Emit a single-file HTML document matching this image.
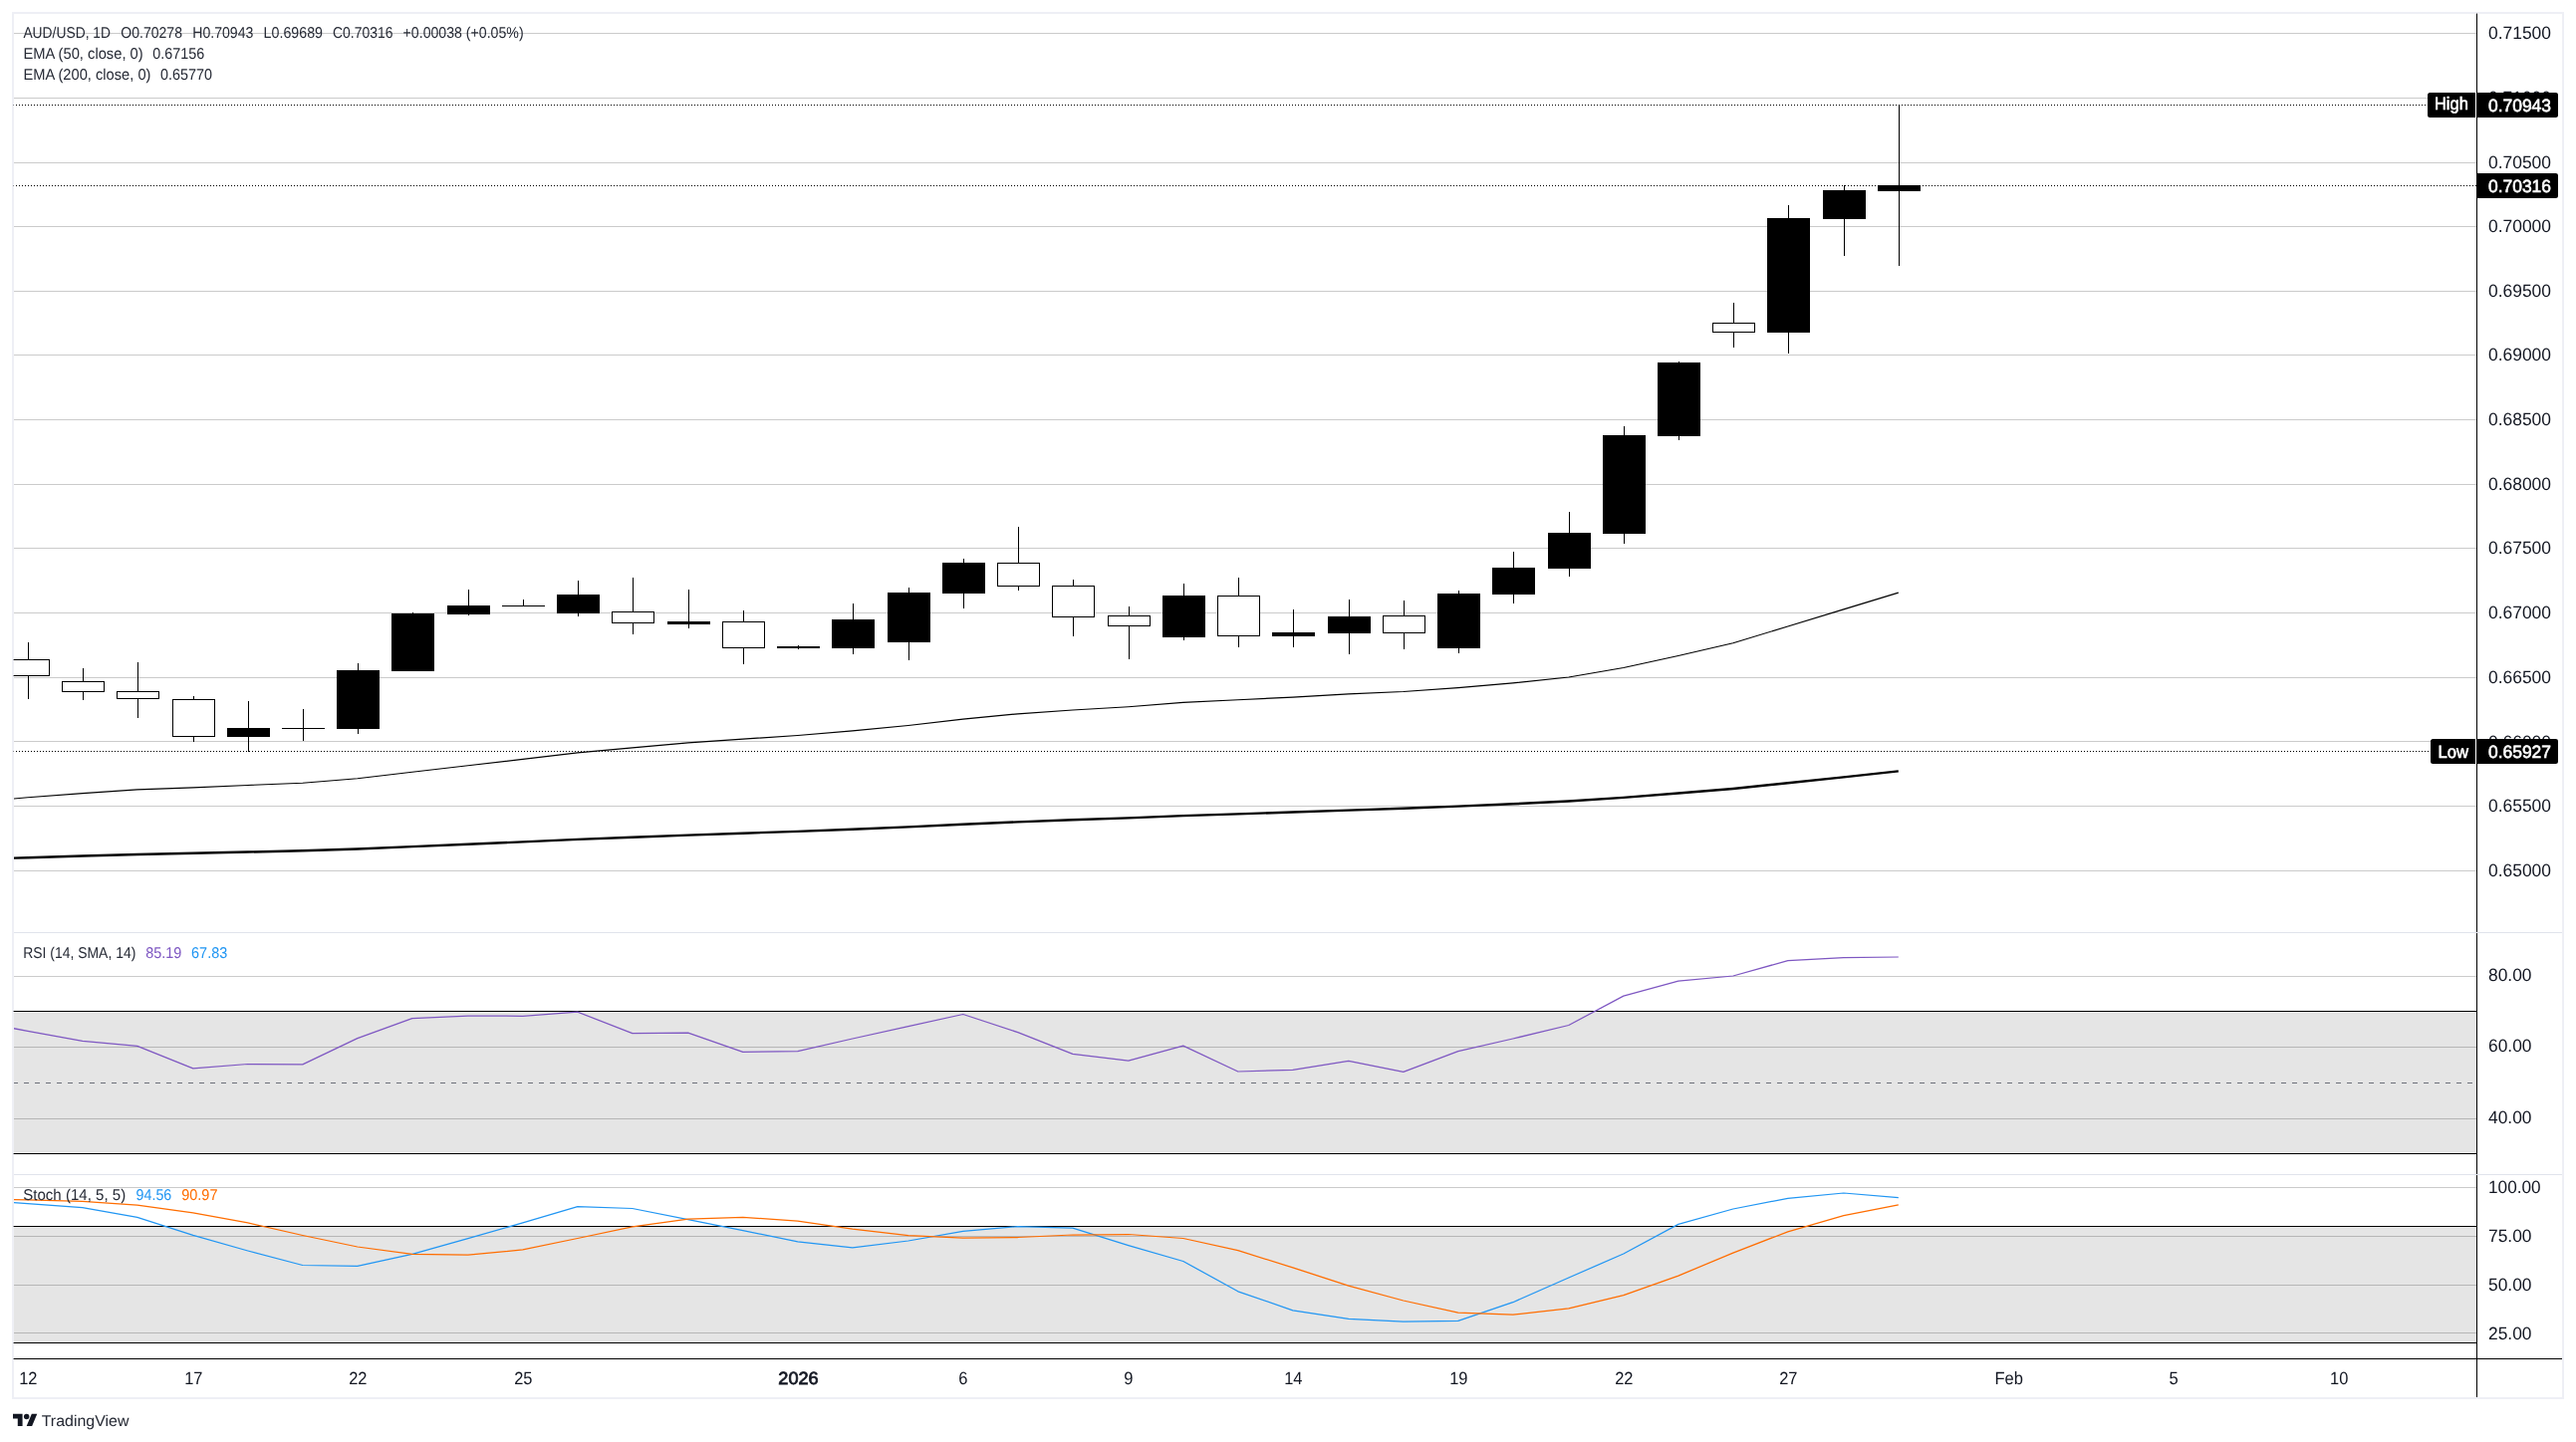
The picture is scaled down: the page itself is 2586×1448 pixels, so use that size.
<!DOCTYPE html>
<html><head><meta charset="utf-8"><title>AUD/USD</title>
<style>html,body{margin:0;padding:0;background:#fff;}body{width:2586px;height:1448px;overflow:hidden;}svg{display:block;will-change:transform;}text{font-family:"Liberation Sans", sans-serif;text-rendering:geometricPrecision;}</style>
</head><body>
<svg width="2586" height="1448" viewBox="0 0 2586 1448">
<defs>
<clipPath id="cpMain"><rect x="14" y="14" width="2472" height="922"/></clipPath>
<clipPath id="cpRsi"><rect x="14" y="937" width="2472" height="242"/></clipPath>
<clipPath id="cpSto"><rect x="14" y="1180" width="2472" height="184"/></clipPath>
</defs>
<rect x="0" y="0" width="2586" height="1448" fill="#ffffff"/>
<g shape-rendering="crispEdges">
<rect x="14" y="33" width="2472" height="1" fill="#cbcbcb"/>
<rect x="14" y="98" width="2472" height="1" fill="#cbcbcb"/>
<rect x="14" y="163" width="2472" height="1" fill="#cbcbcb"/>
<rect x="14" y="227" width="2472" height="1" fill="#cbcbcb"/>
<rect x="14" y="292" width="2472" height="1" fill="#cbcbcb"/>
<rect x="14" y="356" width="2472" height="1" fill="#cbcbcb"/>
<rect x="14" y="421" width="2472" height="1" fill="#cbcbcb"/>
<rect x="14" y="486" width="2472" height="1" fill="#cbcbcb"/>
<rect x="14" y="550" width="2472" height="1" fill="#cbcbcb"/>
<rect x="14" y="615" width="2472" height="1" fill="#cbcbcb"/>
<rect x="14" y="680" width="2472" height="1" fill="#cbcbcb"/>
<rect x="14" y="744" width="2472" height="1" fill="#cbcbcb"/>
<rect x="14" y="809" width="2472" height="1" fill="#cbcbcb"/>
<rect x="14" y="874" width="2472" height="1" fill="#cbcbcb"/>
<rect x="14" y="980" width="2472" height="1" fill="#cbcbcb"/>
<rect x="14" y="1051" width="2472" height="1" fill="#cbcbcb"/>
<rect x="14" y="1123" width="2472" height="1" fill="#cbcbcb"/>
<rect x="14" y="1192" width="2472" height="1" fill="#cbcbcb"/>
<rect x="14" y="1241" width="2472" height="1" fill="#cbcbcb"/>
<rect x="14" y="1290" width="2472" height="1" fill="#cbcbcb"/>
<rect x="14" y="1338" width="2472" height="1" fill="#cbcbcb"/>
<path d="M14 1087h4v1h-4zM24 1087h5v1h-5zM35 1087h5v1h-5zM46 1087h5v1h-5zM57 1087h5v1h-5zM68 1087h5v1h-5zM79 1087h5v1h-5zM90 1087h5v1h-5zM101 1087h5v1h-5zM112 1087h5v1h-5zM123 1087h5v1h-5zM134 1087h5v1h-5zM145 1087h5v1h-5zM156 1087h5v1h-5zM167 1087h5v1h-5zM178 1087h5v1h-5zM189 1087h5v1h-5zM200 1087h5v1h-5zM211 1087h5v1h-5zM222 1087h5v1h-5zM233 1087h5v1h-5zM244 1087h5v1h-5zM255 1087h5v1h-5zM266 1087h5v1h-5zM277 1087h5v1h-5zM288 1087h5v1h-5zM299 1087h5v1h-5zM310 1087h5v1h-5zM321 1087h5v1h-5zM332 1087h5v1h-5zM343 1087h5v1h-5zM354 1087h5v1h-5zM365 1087h5v1h-5zM376 1087h5v1h-5zM387 1087h5v1h-5zM398 1087h5v1h-5zM409 1087h5v1h-5zM420 1087h5v1h-5zM431 1087h5v1h-5zM442 1087h5v1h-5zM453 1087h5v1h-5zM464 1087h5v1h-5zM475 1087h5v1h-5zM486 1087h5v1h-5zM497 1087h5v1h-5zM508 1087h5v1h-5zM519 1087h5v1h-5zM530 1087h5v1h-5zM541 1087h5v1h-5zM552 1087h5v1h-5zM563 1087h5v1h-5zM574 1087h5v1h-5zM585 1087h5v1h-5zM596 1087h5v1h-5zM607 1087h5v1h-5zM618 1087h5v1h-5zM629 1087h5v1h-5zM640 1087h5v1h-5zM651 1087h5v1h-5zM662 1087h5v1h-5zM673 1087h5v1h-5zM684 1087h5v1h-5zM695 1087h5v1h-5zM706 1087h5v1h-5zM717 1087h5v1h-5zM728 1087h5v1h-5zM739 1087h5v1h-5zM750 1087h5v1h-5zM761 1087h5v1h-5zM772 1087h5v1h-5zM783 1087h5v1h-5zM794 1087h5v1h-5zM805 1087h5v1h-5zM816 1087h5v1h-5zM827 1087h5v1h-5zM838 1087h5v1h-5zM849 1087h5v1h-5zM860 1087h5v1h-5zM871 1087h5v1h-5zM882 1087h5v1h-5zM893 1087h5v1h-5zM904 1087h5v1h-5zM915 1087h5v1h-5zM926 1087h5v1h-5zM937 1087h5v1h-5zM948 1087h5v1h-5zM959 1087h5v1h-5zM970 1087h5v1h-5zM981 1087h5v1h-5zM992 1087h5v1h-5zM1003 1087h5v1h-5zM1014 1087h5v1h-5zM1025 1087h5v1h-5zM1036 1087h5v1h-5zM1047 1087h5v1h-5zM1058 1087h5v1h-5zM1069 1087h5v1h-5zM1080 1087h5v1h-5zM1091 1087h5v1h-5zM1102 1087h5v1h-5zM1113 1087h5v1h-5zM1124 1087h5v1h-5zM1135 1087h5v1h-5zM1146 1087h5v1h-5zM1157 1087h5v1h-5zM1168 1087h5v1h-5zM1179 1087h5v1h-5zM1190 1087h5v1h-5zM1201 1087h5v1h-5zM1212 1087h5v1h-5zM1223 1087h5v1h-5zM1234 1087h5v1h-5zM1245 1087h5v1h-5zM1256 1087h5v1h-5zM1267 1087h5v1h-5zM1278 1087h5v1h-5zM1289 1087h5v1h-5zM1300 1087h5v1h-5zM1311 1087h5v1h-5zM1322 1087h5v1h-5zM1333 1087h5v1h-5zM1344 1087h5v1h-5zM1355 1087h5v1h-5zM1366 1087h5v1h-5zM1377 1087h5v1h-5zM1388 1087h5v1h-5zM1399 1087h5v1h-5zM1410 1087h5v1h-5zM1421 1087h5v1h-5zM1432 1087h5v1h-5zM1443 1087h5v1h-5zM1454 1087h5v1h-5zM1465 1087h5v1h-5zM1476 1087h5v1h-5zM1487 1087h5v1h-5zM1498 1087h5v1h-5zM1509 1087h5v1h-5zM1520 1087h5v1h-5zM1531 1087h5v1h-5zM1542 1087h5v1h-5zM1553 1087h5v1h-5zM1564 1087h5v1h-5zM1575 1087h5v1h-5zM1586 1087h5v1h-5zM1597 1087h5v1h-5zM1608 1087h5v1h-5zM1619 1087h5v1h-5zM1630 1087h5v1h-5zM1641 1087h5v1h-5zM1652 1087h5v1h-5zM1663 1087h5v1h-5zM1674 1087h5v1h-5zM1685 1087h5v1h-5zM1696 1087h5v1h-5zM1707 1087h5v1h-5zM1718 1087h5v1h-5zM1729 1087h5v1h-5zM1740 1087h5v1h-5zM1751 1087h5v1h-5zM1762 1087h5v1h-5zM1773 1087h5v1h-5zM1784 1087h5v1h-5zM1795 1087h5v1h-5zM1806 1087h5v1h-5zM1817 1087h5v1h-5zM1828 1087h5v1h-5zM1839 1087h5v1h-5zM1850 1087h5v1h-5zM1861 1087h5v1h-5zM1872 1087h5v1h-5zM1883 1087h5v1h-5zM1894 1087h5v1h-5zM1905 1087h5v1h-5zM1916 1087h5v1h-5zM1927 1087h5v1h-5zM1938 1087h5v1h-5zM1949 1087h5v1h-5zM1960 1087h5v1h-5zM1971 1087h5v1h-5zM1982 1087h5v1h-5zM1993 1087h5v1h-5zM2004 1087h5v1h-5zM2015 1087h5v1h-5zM2026 1087h5v1h-5zM2037 1087h5v1h-5zM2048 1087h5v1h-5zM2059 1087h5v1h-5zM2070 1087h5v1h-5zM2081 1087h5v1h-5zM2092 1087h5v1h-5zM2103 1087h5v1h-5zM2114 1087h5v1h-5zM2125 1087h5v1h-5zM2136 1087h5v1h-5zM2147 1087h5v1h-5zM2158 1087h5v1h-5zM2169 1087h5v1h-5zM2180 1087h5v1h-5zM2191 1087h5v1h-5zM2202 1087h5v1h-5zM2213 1087h5v1h-5zM2224 1087h5v1h-5zM2235 1087h5v1h-5zM2246 1087h5v1h-5zM2257 1087h5v1h-5zM2268 1087h5v1h-5zM2279 1087h5v1h-5zM2290 1087h5v1h-5zM2301 1087h5v1h-5zM2312 1087h5v1h-5zM2323 1087h5v1h-5zM2334 1087h5v1h-5zM2345 1087h5v1h-5zM2356 1087h5v1h-5zM2367 1087h5v1h-5zM2378 1087h5v1h-5zM2389 1087h5v1h-5zM2400 1087h5v1h-5zM2411 1087h5v1h-5zM2422 1087h5v1h-5zM2433 1087h5v1h-5zM2444 1087h5v1h-5zM2455 1087h5v1h-5zM2466 1087h5v1h-5zM2477 1087h5v1h-5z" fill="#787b86"/>
<rect x="14" y="1016" width="2472" height="142" fill="#000000" fill-opacity="0.10"/>
<rect x="14" y="1232" width="2472" height="116" fill="#000000" fill-opacity="0.10"/>
<rect x="14" y="1015" width="2472" height="1" fill="#000000"/>
<rect x="14" y="1158" width="2472" height="1" fill="#000000"/>
<rect x="14" y="1231" width="2472" height="1" fill="#000000"/>
<rect x="14" y="1348" width="2472" height="1" fill="#000000"/>
<path d="M16 105h1v1h-1zM19 105h1v1h-1zM22 105h1v1h-1zM25 105h1v1h-1zM28 105h1v1h-1zM31 105h1v1h-1zM34 105h1v1h-1zM37 105h1v1h-1zM40 105h1v1h-1zM43 105h1v1h-1zM46 105h1v1h-1zM49 105h1v1h-1zM52 105h1v1h-1zM55 105h1v1h-1zM58 105h1v1h-1zM61 105h1v1h-1zM64 105h1v1h-1zM67 105h1v1h-1zM70 105h1v1h-1zM73 105h1v1h-1zM76 105h1v1h-1zM79 105h1v1h-1zM82 105h1v1h-1zM85 105h1v1h-1zM88 105h1v1h-1zM91 105h1v1h-1zM94 105h1v1h-1zM97 105h1v1h-1zM100 105h1v1h-1zM103 105h1v1h-1zM106 105h1v1h-1zM109 105h1v1h-1zM112 105h1v1h-1zM115 105h1v1h-1zM118 105h1v1h-1zM121 105h1v1h-1zM124 105h1v1h-1zM127 105h1v1h-1zM130 105h1v1h-1zM133 105h1v1h-1zM136 105h1v1h-1zM139 105h1v1h-1zM142 105h1v1h-1zM145 105h1v1h-1zM148 105h1v1h-1zM151 105h1v1h-1zM154 105h1v1h-1zM157 105h1v1h-1zM160 105h1v1h-1zM163 105h1v1h-1zM166 105h1v1h-1zM169 105h1v1h-1zM172 105h1v1h-1zM175 105h1v1h-1zM178 105h1v1h-1zM181 105h1v1h-1zM184 105h1v1h-1zM187 105h1v1h-1zM190 105h1v1h-1zM193 105h1v1h-1zM196 105h1v1h-1zM199 105h1v1h-1zM202 105h1v1h-1zM205 105h1v1h-1zM208 105h1v1h-1zM211 105h1v1h-1zM214 105h1v1h-1zM217 105h1v1h-1zM220 105h1v1h-1zM223 105h1v1h-1zM226 105h1v1h-1zM229 105h1v1h-1zM232 105h1v1h-1zM235 105h1v1h-1zM238 105h1v1h-1zM241 105h1v1h-1zM244 105h1v1h-1zM247 105h1v1h-1zM250 105h1v1h-1zM253 105h1v1h-1zM256 105h1v1h-1zM259 105h1v1h-1zM262 105h1v1h-1zM265 105h1v1h-1zM268 105h1v1h-1zM271 105h1v1h-1zM274 105h1v1h-1zM277 105h1v1h-1zM280 105h1v1h-1zM283 105h1v1h-1zM286 105h1v1h-1zM289 105h1v1h-1zM292 105h1v1h-1zM295 105h1v1h-1zM298 105h1v1h-1zM301 105h1v1h-1zM304 105h1v1h-1zM307 105h1v1h-1zM310 105h1v1h-1zM313 105h1v1h-1zM316 105h1v1h-1zM319 105h1v1h-1zM322 105h1v1h-1zM325 105h1v1h-1zM328 105h1v1h-1zM331 105h1v1h-1zM334 105h1v1h-1zM337 105h1v1h-1zM340 105h1v1h-1zM343 105h1v1h-1zM346 105h1v1h-1zM349 105h1v1h-1zM352 105h1v1h-1zM355 105h1v1h-1zM358 105h1v1h-1zM361 105h1v1h-1zM364 105h1v1h-1zM367 105h1v1h-1zM370 105h1v1h-1zM373 105h1v1h-1zM376 105h1v1h-1zM379 105h1v1h-1zM382 105h1v1h-1zM385 105h1v1h-1zM388 105h1v1h-1zM391 105h1v1h-1zM394 105h1v1h-1zM397 105h1v1h-1zM400 105h1v1h-1zM403 105h1v1h-1zM406 105h1v1h-1zM409 105h1v1h-1zM412 105h1v1h-1zM415 105h1v1h-1zM418 105h1v1h-1zM421 105h1v1h-1zM424 105h1v1h-1zM427 105h1v1h-1zM430 105h1v1h-1zM433 105h1v1h-1zM436 105h1v1h-1zM439 105h1v1h-1zM442 105h1v1h-1zM445 105h1v1h-1zM448 105h1v1h-1zM451 105h1v1h-1zM454 105h1v1h-1zM457 105h1v1h-1zM460 105h1v1h-1zM463 105h1v1h-1zM466 105h1v1h-1zM469 105h1v1h-1zM472 105h1v1h-1zM475 105h1v1h-1zM478 105h1v1h-1zM481 105h1v1h-1zM484 105h1v1h-1zM487 105h1v1h-1zM490 105h1v1h-1zM493 105h1v1h-1zM496 105h1v1h-1zM499 105h1v1h-1zM502 105h1v1h-1zM505 105h1v1h-1zM508 105h1v1h-1zM511 105h1v1h-1zM514 105h1v1h-1zM517 105h1v1h-1zM520 105h1v1h-1zM523 105h1v1h-1zM526 105h1v1h-1zM529 105h1v1h-1zM532 105h1v1h-1zM535 105h1v1h-1zM538 105h1v1h-1zM541 105h1v1h-1zM544 105h1v1h-1zM547 105h1v1h-1zM550 105h1v1h-1zM553 105h1v1h-1zM556 105h1v1h-1zM559 105h1v1h-1zM562 105h1v1h-1zM565 105h1v1h-1zM568 105h1v1h-1zM571 105h1v1h-1zM574 105h1v1h-1zM577 105h1v1h-1zM580 105h1v1h-1zM583 105h1v1h-1zM586 105h1v1h-1zM589 105h1v1h-1zM592 105h1v1h-1zM595 105h1v1h-1zM598 105h1v1h-1zM601 105h1v1h-1zM604 105h1v1h-1zM607 105h1v1h-1zM610 105h1v1h-1zM613 105h1v1h-1zM616 105h1v1h-1zM619 105h1v1h-1zM622 105h1v1h-1zM625 105h1v1h-1zM628 105h1v1h-1zM631 105h1v1h-1zM634 105h1v1h-1zM637 105h1v1h-1zM640 105h1v1h-1zM643 105h1v1h-1zM646 105h1v1h-1zM649 105h1v1h-1zM652 105h1v1h-1zM655 105h1v1h-1zM658 105h1v1h-1zM661 105h1v1h-1zM664 105h1v1h-1zM667 105h1v1h-1zM670 105h1v1h-1zM673 105h1v1h-1zM676 105h1v1h-1zM679 105h1v1h-1zM682 105h1v1h-1zM685 105h1v1h-1zM688 105h1v1h-1zM691 105h1v1h-1zM694 105h1v1h-1zM697 105h1v1h-1zM700 105h1v1h-1zM703 105h1v1h-1zM706 105h1v1h-1zM709 105h1v1h-1zM712 105h1v1h-1zM715 105h1v1h-1zM718 105h1v1h-1zM721 105h1v1h-1zM724 105h1v1h-1zM727 105h1v1h-1zM730 105h1v1h-1zM733 105h1v1h-1zM736 105h1v1h-1zM739 105h1v1h-1zM742 105h1v1h-1zM745 105h1v1h-1zM748 105h1v1h-1zM751 105h1v1h-1zM754 105h1v1h-1zM757 105h1v1h-1zM760 105h1v1h-1zM763 105h1v1h-1zM766 105h1v1h-1zM769 105h1v1h-1zM772 105h1v1h-1zM775 105h1v1h-1zM778 105h1v1h-1zM781 105h1v1h-1zM784 105h1v1h-1zM787 105h1v1h-1zM790 105h1v1h-1zM793 105h1v1h-1zM796 105h1v1h-1zM799 105h1v1h-1zM802 105h1v1h-1zM805 105h1v1h-1zM808 105h1v1h-1zM811 105h1v1h-1zM814 105h1v1h-1zM817 105h1v1h-1zM820 105h1v1h-1zM823 105h1v1h-1zM826 105h1v1h-1zM829 105h1v1h-1zM832 105h1v1h-1zM835 105h1v1h-1zM838 105h1v1h-1zM841 105h1v1h-1zM844 105h1v1h-1zM847 105h1v1h-1zM850 105h1v1h-1zM853 105h1v1h-1zM856 105h1v1h-1zM859 105h1v1h-1zM862 105h1v1h-1zM865 105h1v1h-1zM868 105h1v1h-1zM871 105h1v1h-1zM874 105h1v1h-1zM877 105h1v1h-1zM880 105h1v1h-1zM883 105h1v1h-1zM886 105h1v1h-1zM889 105h1v1h-1zM892 105h1v1h-1zM895 105h1v1h-1zM898 105h1v1h-1zM901 105h1v1h-1zM904 105h1v1h-1zM907 105h1v1h-1zM910 105h1v1h-1zM913 105h1v1h-1zM916 105h1v1h-1zM919 105h1v1h-1zM922 105h1v1h-1zM925 105h1v1h-1zM928 105h1v1h-1zM931 105h1v1h-1zM934 105h1v1h-1zM937 105h1v1h-1zM940 105h1v1h-1zM943 105h1v1h-1zM946 105h1v1h-1zM949 105h1v1h-1zM952 105h1v1h-1zM955 105h1v1h-1zM958 105h1v1h-1zM961 105h1v1h-1zM964 105h1v1h-1zM967 105h1v1h-1zM970 105h1v1h-1zM973 105h1v1h-1zM976 105h1v1h-1zM979 105h1v1h-1zM982 105h1v1h-1zM985 105h1v1h-1zM988 105h1v1h-1zM991 105h1v1h-1zM994 105h1v1h-1zM997 105h1v1h-1zM1000 105h1v1h-1zM1003 105h1v1h-1zM1006 105h1v1h-1zM1009 105h1v1h-1zM1012 105h1v1h-1zM1015 105h1v1h-1zM1018 105h1v1h-1zM1021 105h1v1h-1zM1024 105h1v1h-1zM1027 105h1v1h-1zM1030 105h1v1h-1zM1033 105h1v1h-1zM1036 105h1v1h-1zM1039 105h1v1h-1zM1042 105h1v1h-1zM1045 105h1v1h-1zM1048 105h1v1h-1zM1051 105h1v1h-1zM1054 105h1v1h-1zM1057 105h1v1h-1zM1060 105h1v1h-1zM1063 105h1v1h-1zM1066 105h1v1h-1zM1069 105h1v1h-1zM1072 105h1v1h-1zM1075 105h1v1h-1zM1078 105h1v1h-1zM1081 105h1v1h-1zM1084 105h1v1h-1zM1087 105h1v1h-1zM1090 105h1v1h-1zM1093 105h1v1h-1zM1096 105h1v1h-1zM1099 105h1v1h-1zM1102 105h1v1h-1zM1105 105h1v1h-1zM1108 105h1v1h-1zM1111 105h1v1h-1zM1114 105h1v1h-1zM1117 105h1v1h-1zM1120 105h1v1h-1zM1123 105h1v1h-1zM1126 105h1v1h-1zM1129 105h1v1h-1zM1132 105h1v1h-1zM1135 105h1v1h-1zM1138 105h1v1h-1zM1141 105h1v1h-1zM1144 105h1v1h-1zM1147 105h1v1h-1zM1150 105h1v1h-1zM1153 105h1v1h-1zM1156 105h1v1h-1zM1159 105h1v1h-1zM1162 105h1v1h-1zM1165 105h1v1h-1zM1168 105h1v1h-1zM1171 105h1v1h-1zM1174 105h1v1h-1zM1177 105h1v1h-1zM1180 105h1v1h-1zM1183 105h1v1h-1zM1186 105h1v1h-1zM1189 105h1v1h-1zM1192 105h1v1h-1zM1195 105h1v1h-1zM1198 105h1v1h-1zM1201 105h1v1h-1zM1204 105h1v1h-1zM1207 105h1v1h-1zM1210 105h1v1h-1zM1213 105h1v1h-1zM1216 105h1v1h-1zM1219 105h1v1h-1zM1222 105h1v1h-1zM1225 105h1v1h-1zM1228 105h1v1h-1zM1231 105h1v1h-1zM1234 105h1v1h-1zM1237 105h1v1h-1zM1240 105h1v1h-1zM1243 105h1v1h-1zM1246 105h1v1h-1zM1249 105h1v1h-1zM1252 105h1v1h-1zM1255 105h1v1h-1zM1258 105h1v1h-1zM1261 105h1v1h-1zM1264 105h1v1h-1zM1267 105h1v1h-1zM1270 105h1v1h-1zM1273 105h1v1h-1zM1276 105h1v1h-1zM1279 105h1v1h-1zM1282 105h1v1h-1zM1285 105h1v1h-1zM1288 105h1v1h-1zM1291 105h1v1h-1zM1294 105h1v1h-1zM1297 105h1v1h-1zM1300 105h1v1h-1zM1303 105h1v1h-1zM1306 105h1v1h-1zM1309 105h1v1h-1zM1312 105h1v1h-1zM1315 105h1v1h-1zM1318 105h1v1h-1zM1321 105h1v1h-1zM1324 105h1v1h-1zM1327 105h1v1h-1zM1330 105h1v1h-1zM1333 105h1v1h-1zM1336 105h1v1h-1zM1339 105h1v1h-1zM1342 105h1v1h-1zM1345 105h1v1h-1zM1348 105h1v1h-1zM1351 105h1v1h-1zM1354 105h1v1h-1zM1357 105h1v1h-1zM1360 105h1v1h-1zM1363 105h1v1h-1zM1366 105h1v1h-1zM1369 105h1v1h-1zM1372 105h1v1h-1zM1375 105h1v1h-1zM1378 105h1v1h-1zM1381 105h1v1h-1zM1384 105h1v1h-1zM1387 105h1v1h-1zM1390 105h1v1h-1zM1393 105h1v1h-1zM1396 105h1v1h-1zM1399 105h1v1h-1zM1402 105h1v1h-1zM1405 105h1v1h-1zM1408 105h1v1h-1zM1411 105h1v1h-1zM1414 105h1v1h-1zM1417 105h1v1h-1zM1420 105h1v1h-1zM1423 105h1v1h-1zM1426 105h1v1h-1zM1429 105h1v1h-1zM1432 105h1v1h-1zM1435 105h1v1h-1zM1438 105h1v1h-1zM1441 105h1v1h-1zM1444 105h1v1h-1zM1447 105h1v1h-1zM1450 105h1v1h-1zM1453 105h1v1h-1zM1456 105h1v1h-1zM1459 105h1v1h-1zM1462 105h1v1h-1zM1465 105h1v1h-1zM1468 105h1v1h-1zM1471 105h1v1h-1zM1474 105h1v1h-1zM1477 105h1v1h-1zM1480 105h1v1h-1zM1483 105h1v1h-1zM1486 105h1v1h-1zM1489 105h1v1h-1zM1492 105h1v1h-1zM1495 105h1v1h-1zM1498 105h1v1h-1zM1501 105h1v1h-1zM1504 105h1v1h-1zM1507 105h1v1h-1zM1510 105h1v1h-1zM1513 105h1v1h-1zM1516 105h1v1h-1zM1519 105h1v1h-1zM1522 105h1v1h-1zM1525 105h1v1h-1zM1528 105h1v1h-1zM1531 105h1v1h-1zM1534 105h1v1h-1zM1537 105h1v1h-1zM1540 105h1v1h-1zM1543 105h1v1h-1zM1546 105h1v1h-1zM1549 105h1v1h-1zM1552 105h1v1h-1zM1555 105h1v1h-1zM1558 105h1v1h-1zM1561 105h1v1h-1zM1564 105h1v1h-1zM1567 105h1v1h-1zM1570 105h1v1h-1zM1573 105h1v1h-1zM1576 105h1v1h-1zM1579 105h1v1h-1zM1582 105h1v1h-1zM1585 105h1v1h-1zM1588 105h1v1h-1zM1591 105h1v1h-1zM1594 105h1v1h-1zM1597 105h1v1h-1zM1600 105h1v1h-1zM1603 105h1v1h-1zM1606 105h1v1h-1zM1609 105h1v1h-1zM1612 105h1v1h-1zM1615 105h1v1h-1zM1618 105h1v1h-1zM1621 105h1v1h-1zM1624 105h1v1h-1zM1627 105h1v1h-1zM1630 105h1v1h-1zM1633 105h1v1h-1zM1636 105h1v1h-1zM1639 105h1v1h-1zM1642 105h1v1h-1zM1645 105h1v1h-1zM1648 105h1v1h-1zM1651 105h1v1h-1zM1654 105h1v1h-1zM1657 105h1v1h-1zM1660 105h1v1h-1zM1663 105h1v1h-1zM1666 105h1v1h-1zM1669 105h1v1h-1zM1672 105h1v1h-1zM1675 105h1v1h-1zM1678 105h1v1h-1zM1681 105h1v1h-1zM1684 105h1v1h-1zM1687 105h1v1h-1zM1690 105h1v1h-1zM1693 105h1v1h-1zM1696 105h1v1h-1zM1699 105h1v1h-1zM1702 105h1v1h-1zM1705 105h1v1h-1zM1708 105h1v1h-1zM1711 105h1v1h-1zM1714 105h1v1h-1zM1717 105h1v1h-1zM1720 105h1v1h-1zM1723 105h1v1h-1zM1726 105h1v1h-1zM1729 105h1v1h-1zM1732 105h1v1h-1zM1735 105h1v1h-1zM1738 105h1v1h-1zM1741 105h1v1h-1zM1744 105h1v1h-1zM1747 105h1v1h-1zM1750 105h1v1h-1zM1753 105h1v1h-1zM1756 105h1v1h-1zM1759 105h1v1h-1zM1762 105h1v1h-1zM1765 105h1v1h-1zM1768 105h1v1h-1zM1771 105h1v1h-1zM1774 105h1v1h-1zM1777 105h1v1h-1zM1780 105h1v1h-1zM1783 105h1v1h-1zM1786 105h1v1h-1zM1789 105h1v1h-1zM1792 105h1v1h-1zM1795 105h1v1h-1zM1798 105h1v1h-1zM1801 105h1v1h-1zM1804 105h1v1h-1zM1807 105h1v1h-1zM1810 105h1v1h-1zM1813 105h1v1h-1zM1816 105h1v1h-1zM1819 105h1v1h-1zM1822 105h1v1h-1zM1825 105h1v1h-1zM1828 105h1v1h-1zM1831 105h1v1h-1zM1834 105h1v1h-1zM1837 105h1v1h-1zM1840 105h1v1h-1zM1843 105h1v1h-1zM1846 105h1v1h-1zM1849 105h1v1h-1zM1852 105h1v1h-1zM1855 105h1v1h-1zM1858 105h1v1h-1zM1861 105h1v1h-1zM1864 105h1v1h-1zM1867 105h1v1h-1zM1870 105h1v1h-1zM1873 105h1v1h-1zM1876 105h1v1h-1zM1879 105h1v1h-1zM1882 105h1v1h-1zM1885 105h1v1h-1zM1888 105h1v1h-1zM1891 105h1v1h-1zM1894 105h1v1h-1zM1897 105h1v1h-1zM1900 105h1v1h-1zM1903 105h1v1h-1zM1906 105h1v1h-1zM1909 105h1v1h-1zM1912 105h1v1h-1zM1915 105h1v1h-1zM1918 105h1v1h-1zM1921 105h1v1h-1zM1924 105h1v1h-1zM1927 105h1v1h-1zM1930 105h1v1h-1zM1933 105h1v1h-1zM1936 105h1v1h-1zM1939 105h1v1h-1zM1942 105h1v1h-1zM1945 105h1v1h-1zM1948 105h1v1h-1zM1951 105h1v1h-1zM1954 105h1v1h-1zM1957 105h1v1h-1zM1960 105h1v1h-1zM1963 105h1v1h-1zM1966 105h1v1h-1zM1969 105h1v1h-1zM1972 105h1v1h-1zM1975 105h1v1h-1zM1978 105h1v1h-1zM1981 105h1v1h-1zM1984 105h1v1h-1zM1987 105h1v1h-1zM1990 105h1v1h-1zM1993 105h1v1h-1zM1996 105h1v1h-1zM1999 105h1v1h-1zM2002 105h1v1h-1zM2005 105h1v1h-1zM2008 105h1v1h-1zM2011 105h1v1h-1zM2014 105h1v1h-1zM2017 105h1v1h-1zM2020 105h1v1h-1zM2023 105h1v1h-1zM2026 105h1v1h-1zM2029 105h1v1h-1zM2032 105h1v1h-1zM2035 105h1v1h-1zM2038 105h1v1h-1zM2041 105h1v1h-1zM2044 105h1v1h-1zM2047 105h1v1h-1zM2050 105h1v1h-1zM2053 105h1v1h-1zM2056 105h1v1h-1zM2059 105h1v1h-1zM2062 105h1v1h-1zM2065 105h1v1h-1zM2068 105h1v1h-1zM2071 105h1v1h-1zM2074 105h1v1h-1zM2077 105h1v1h-1zM2080 105h1v1h-1zM2083 105h1v1h-1zM2086 105h1v1h-1zM2089 105h1v1h-1zM2092 105h1v1h-1zM2095 105h1v1h-1zM2098 105h1v1h-1zM2101 105h1v1h-1zM2104 105h1v1h-1zM2107 105h1v1h-1zM2110 105h1v1h-1zM2113 105h1v1h-1zM2116 105h1v1h-1zM2119 105h1v1h-1zM2122 105h1v1h-1zM2125 105h1v1h-1zM2128 105h1v1h-1zM2131 105h1v1h-1zM2134 105h1v1h-1zM2137 105h1v1h-1zM2140 105h1v1h-1zM2143 105h1v1h-1zM2146 105h1v1h-1zM2149 105h1v1h-1zM2152 105h1v1h-1zM2155 105h1v1h-1zM2158 105h1v1h-1zM2161 105h1v1h-1zM2164 105h1v1h-1zM2167 105h1v1h-1zM2170 105h1v1h-1zM2173 105h1v1h-1zM2176 105h1v1h-1zM2179 105h1v1h-1zM2182 105h1v1h-1zM2185 105h1v1h-1zM2188 105h1v1h-1zM2191 105h1v1h-1zM2194 105h1v1h-1zM2197 105h1v1h-1zM2200 105h1v1h-1zM2203 105h1v1h-1zM2206 105h1v1h-1zM2209 105h1v1h-1zM2212 105h1v1h-1zM2215 105h1v1h-1zM2218 105h1v1h-1zM2221 105h1v1h-1zM2224 105h1v1h-1zM2227 105h1v1h-1zM2230 105h1v1h-1zM2233 105h1v1h-1zM2236 105h1v1h-1zM2239 105h1v1h-1zM2242 105h1v1h-1zM2245 105h1v1h-1zM2248 105h1v1h-1zM2251 105h1v1h-1zM2254 105h1v1h-1zM2257 105h1v1h-1zM2260 105h1v1h-1zM2263 105h1v1h-1zM2266 105h1v1h-1zM2269 105h1v1h-1zM2272 105h1v1h-1zM2275 105h1v1h-1zM2278 105h1v1h-1zM2281 105h1v1h-1zM2284 105h1v1h-1zM2287 105h1v1h-1zM2290 105h1v1h-1zM2293 105h1v1h-1zM2296 105h1v1h-1zM2299 105h1v1h-1zM2302 105h1v1h-1zM2305 105h1v1h-1zM2308 105h1v1h-1zM2311 105h1v1h-1zM2314 105h1v1h-1zM2317 105h1v1h-1zM2320 105h1v1h-1zM2323 105h1v1h-1zM2326 105h1v1h-1zM2329 105h1v1h-1zM2332 105h1v1h-1zM2335 105h1v1h-1zM2338 105h1v1h-1zM2341 105h1v1h-1zM2344 105h1v1h-1zM2347 105h1v1h-1zM2350 105h1v1h-1zM2353 105h1v1h-1zM2356 105h1v1h-1zM2359 105h1v1h-1zM2362 105h1v1h-1zM2365 105h1v1h-1zM2368 105h1v1h-1zM2371 105h1v1h-1zM2374 105h1v1h-1zM2377 105h1v1h-1zM2380 105h1v1h-1zM2383 105h1v1h-1zM2386 105h1v1h-1zM2389 105h1v1h-1zM2392 105h1v1h-1zM2395 105h1v1h-1zM2398 105h1v1h-1zM2401 105h1v1h-1zM2404 105h1v1h-1zM2407 105h1v1h-1zM2410 105h1v1h-1zM2413 105h1v1h-1zM2416 105h1v1h-1zM2419 105h1v1h-1zM2422 105h1v1h-1zM2425 105h1v1h-1zM2428 105h1v1h-1zM2431 105h1v1h-1zM2434 105h1v1h-1z" fill="#000"/>
<path d="M16 186h1v1h-1zM19 186h1v1h-1zM22 186h1v1h-1zM25 186h1v1h-1zM28 186h1v1h-1zM31 186h1v1h-1zM34 186h1v1h-1zM37 186h1v1h-1zM40 186h1v1h-1zM43 186h1v1h-1zM46 186h1v1h-1zM49 186h1v1h-1zM52 186h1v1h-1zM55 186h1v1h-1zM58 186h1v1h-1zM61 186h1v1h-1zM64 186h1v1h-1zM67 186h1v1h-1zM70 186h1v1h-1zM73 186h1v1h-1zM76 186h1v1h-1zM79 186h1v1h-1zM82 186h1v1h-1zM85 186h1v1h-1zM88 186h1v1h-1zM91 186h1v1h-1zM94 186h1v1h-1zM97 186h1v1h-1zM100 186h1v1h-1zM103 186h1v1h-1zM106 186h1v1h-1zM109 186h1v1h-1zM112 186h1v1h-1zM115 186h1v1h-1zM118 186h1v1h-1zM121 186h1v1h-1zM124 186h1v1h-1zM127 186h1v1h-1zM130 186h1v1h-1zM133 186h1v1h-1zM136 186h1v1h-1zM139 186h1v1h-1zM142 186h1v1h-1zM145 186h1v1h-1zM148 186h1v1h-1zM151 186h1v1h-1zM154 186h1v1h-1zM157 186h1v1h-1zM160 186h1v1h-1zM163 186h1v1h-1zM166 186h1v1h-1zM169 186h1v1h-1zM172 186h1v1h-1zM175 186h1v1h-1zM178 186h1v1h-1zM181 186h1v1h-1zM184 186h1v1h-1zM187 186h1v1h-1zM190 186h1v1h-1zM193 186h1v1h-1zM196 186h1v1h-1zM199 186h1v1h-1zM202 186h1v1h-1zM205 186h1v1h-1zM208 186h1v1h-1zM211 186h1v1h-1zM214 186h1v1h-1zM217 186h1v1h-1zM220 186h1v1h-1zM223 186h1v1h-1zM226 186h1v1h-1zM229 186h1v1h-1zM232 186h1v1h-1zM235 186h1v1h-1zM238 186h1v1h-1zM241 186h1v1h-1zM244 186h1v1h-1zM247 186h1v1h-1zM250 186h1v1h-1zM253 186h1v1h-1zM256 186h1v1h-1zM259 186h1v1h-1zM262 186h1v1h-1zM265 186h1v1h-1zM268 186h1v1h-1zM271 186h1v1h-1zM274 186h1v1h-1zM277 186h1v1h-1zM280 186h1v1h-1zM283 186h1v1h-1zM286 186h1v1h-1zM289 186h1v1h-1zM292 186h1v1h-1zM295 186h1v1h-1zM298 186h1v1h-1zM301 186h1v1h-1zM304 186h1v1h-1zM307 186h1v1h-1zM310 186h1v1h-1zM313 186h1v1h-1zM316 186h1v1h-1zM319 186h1v1h-1zM322 186h1v1h-1zM325 186h1v1h-1zM328 186h1v1h-1zM331 186h1v1h-1zM334 186h1v1h-1zM337 186h1v1h-1zM340 186h1v1h-1zM343 186h1v1h-1zM346 186h1v1h-1zM349 186h1v1h-1zM352 186h1v1h-1zM355 186h1v1h-1zM358 186h1v1h-1zM361 186h1v1h-1zM364 186h1v1h-1zM367 186h1v1h-1zM370 186h1v1h-1zM373 186h1v1h-1zM376 186h1v1h-1zM379 186h1v1h-1zM382 186h1v1h-1zM385 186h1v1h-1zM388 186h1v1h-1zM391 186h1v1h-1zM394 186h1v1h-1zM397 186h1v1h-1zM400 186h1v1h-1zM403 186h1v1h-1zM406 186h1v1h-1zM409 186h1v1h-1zM412 186h1v1h-1zM415 186h1v1h-1zM418 186h1v1h-1zM421 186h1v1h-1zM424 186h1v1h-1zM427 186h1v1h-1zM430 186h1v1h-1zM433 186h1v1h-1zM436 186h1v1h-1zM439 186h1v1h-1zM442 186h1v1h-1zM445 186h1v1h-1zM448 186h1v1h-1zM451 186h1v1h-1zM454 186h1v1h-1zM457 186h1v1h-1zM460 186h1v1h-1zM463 186h1v1h-1zM466 186h1v1h-1zM469 186h1v1h-1zM472 186h1v1h-1zM475 186h1v1h-1zM478 186h1v1h-1zM481 186h1v1h-1zM484 186h1v1h-1zM487 186h1v1h-1zM490 186h1v1h-1zM493 186h1v1h-1zM496 186h1v1h-1zM499 186h1v1h-1zM502 186h1v1h-1zM505 186h1v1h-1zM508 186h1v1h-1zM511 186h1v1h-1zM514 186h1v1h-1zM517 186h1v1h-1zM520 186h1v1h-1zM523 186h1v1h-1zM526 186h1v1h-1zM529 186h1v1h-1zM532 186h1v1h-1zM535 186h1v1h-1zM538 186h1v1h-1zM541 186h1v1h-1zM544 186h1v1h-1zM547 186h1v1h-1zM550 186h1v1h-1zM553 186h1v1h-1zM556 186h1v1h-1zM559 186h1v1h-1zM562 186h1v1h-1zM565 186h1v1h-1zM568 186h1v1h-1zM571 186h1v1h-1zM574 186h1v1h-1zM577 186h1v1h-1zM580 186h1v1h-1zM583 186h1v1h-1zM586 186h1v1h-1zM589 186h1v1h-1zM592 186h1v1h-1zM595 186h1v1h-1zM598 186h1v1h-1zM601 186h1v1h-1zM604 186h1v1h-1zM607 186h1v1h-1zM610 186h1v1h-1zM613 186h1v1h-1zM616 186h1v1h-1zM619 186h1v1h-1zM622 186h1v1h-1zM625 186h1v1h-1zM628 186h1v1h-1zM631 186h1v1h-1zM634 186h1v1h-1zM637 186h1v1h-1zM640 186h1v1h-1zM643 186h1v1h-1zM646 186h1v1h-1zM649 186h1v1h-1zM652 186h1v1h-1zM655 186h1v1h-1zM658 186h1v1h-1zM661 186h1v1h-1zM664 186h1v1h-1zM667 186h1v1h-1zM670 186h1v1h-1zM673 186h1v1h-1zM676 186h1v1h-1zM679 186h1v1h-1zM682 186h1v1h-1zM685 186h1v1h-1zM688 186h1v1h-1zM691 186h1v1h-1zM694 186h1v1h-1zM697 186h1v1h-1zM700 186h1v1h-1zM703 186h1v1h-1zM706 186h1v1h-1zM709 186h1v1h-1zM712 186h1v1h-1zM715 186h1v1h-1zM718 186h1v1h-1zM721 186h1v1h-1zM724 186h1v1h-1zM727 186h1v1h-1zM730 186h1v1h-1zM733 186h1v1h-1zM736 186h1v1h-1zM739 186h1v1h-1zM742 186h1v1h-1zM745 186h1v1h-1zM748 186h1v1h-1zM751 186h1v1h-1zM754 186h1v1h-1zM757 186h1v1h-1zM760 186h1v1h-1zM763 186h1v1h-1zM766 186h1v1h-1zM769 186h1v1h-1zM772 186h1v1h-1zM775 186h1v1h-1zM778 186h1v1h-1zM781 186h1v1h-1zM784 186h1v1h-1zM787 186h1v1h-1zM790 186h1v1h-1zM793 186h1v1h-1zM796 186h1v1h-1zM799 186h1v1h-1zM802 186h1v1h-1zM805 186h1v1h-1zM808 186h1v1h-1zM811 186h1v1h-1zM814 186h1v1h-1zM817 186h1v1h-1zM820 186h1v1h-1zM823 186h1v1h-1zM826 186h1v1h-1zM829 186h1v1h-1zM832 186h1v1h-1zM835 186h1v1h-1zM838 186h1v1h-1zM841 186h1v1h-1zM844 186h1v1h-1zM847 186h1v1h-1zM850 186h1v1h-1zM853 186h1v1h-1zM856 186h1v1h-1zM859 186h1v1h-1zM862 186h1v1h-1zM865 186h1v1h-1zM868 186h1v1h-1zM871 186h1v1h-1zM874 186h1v1h-1zM877 186h1v1h-1zM880 186h1v1h-1zM883 186h1v1h-1zM886 186h1v1h-1zM889 186h1v1h-1zM892 186h1v1h-1zM895 186h1v1h-1zM898 186h1v1h-1zM901 186h1v1h-1zM904 186h1v1h-1zM907 186h1v1h-1zM910 186h1v1h-1zM913 186h1v1h-1zM916 186h1v1h-1zM919 186h1v1h-1zM922 186h1v1h-1zM925 186h1v1h-1zM928 186h1v1h-1zM931 186h1v1h-1zM934 186h1v1h-1zM937 186h1v1h-1zM940 186h1v1h-1zM943 186h1v1h-1zM946 186h1v1h-1zM949 186h1v1h-1zM952 186h1v1h-1zM955 186h1v1h-1zM958 186h1v1h-1zM961 186h1v1h-1zM964 186h1v1h-1zM967 186h1v1h-1zM970 186h1v1h-1zM973 186h1v1h-1zM976 186h1v1h-1zM979 186h1v1h-1zM982 186h1v1h-1zM985 186h1v1h-1zM988 186h1v1h-1zM991 186h1v1h-1zM994 186h1v1h-1zM997 186h1v1h-1zM1000 186h1v1h-1zM1003 186h1v1h-1zM1006 186h1v1h-1zM1009 186h1v1h-1zM1012 186h1v1h-1zM1015 186h1v1h-1zM1018 186h1v1h-1zM1021 186h1v1h-1zM1024 186h1v1h-1zM1027 186h1v1h-1zM1030 186h1v1h-1zM1033 186h1v1h-1zM1036 186h1v1h-1zM1039 186h1v1h-1zM1042 186h1v1h-1zM1045 186h1v1h-1zM1048 186h1v1h-1zM1051 186h1v1h-1zM1054 186h1v1h-1zM1057 186h1v1h-1zM1060 186h1v1h-1zM1063 186h1v1h-1zM1066 186h1v1h-1zM1069 186h1v1h-1zM1072 186h1v1h-1zM1075 186h1v1h-1zM1078 186h1v1h-1zM1081 186h1v1h-1zM1084 186h1v1h-1zM1087 186h1v1h-1zM1090 186h1v1h-1zM1093 186h1v1h-1zM1096 186h1v1h-1zM1099 186h1v1h-1zM1102 186h1v1h-1zM1105 186h1v1h-1zM1108 186h1v1h-1zM1111 186h1v1h-1zM1114 186h1v1h-1zM1117 186h1v1h-1zM1120 186h1v1h-1zM1123 186h1v1h-1zM1126 186h1v1h-1zM1129 186h1v1h-1zM1132 186h1v1h-1zM1135 186h1v1h-1zM1138 186h1v1h-1zM1141 186h1v1h-1zM1144 186h1v1h-1zM1147 186h1v1h-1zM1150 186h1v1h-1zM1153 186h1v1h-1zM1156 186h1v1h-1zM1159 186h1v1h-1zM1162 186h1v1h-1zM1165 186h1v1h-1zM1168 186h1v1h-1zM1171 186h1v1h-1zM1174 186h1v1h-1zM1177 186h1v1h-1zM1180 186h1v1h-1zM1183 186h1v1h-1zM1186 186h1v1h-1zM1189 186h1v1h-1zM1192 186h1v1h-1zM1195 186h1v1h-1zM1198 186h1v1h-1zM1201 186h1v1h-1zM1204 186h1v1h-1zM1207 186h1v1h-1zM1210 186h1v1h-1zM1213 186h1v1h-1zM1216 186h1v1h-1zM1219 186h1v1h-1zM1222 186h1v1h-1zM1225 186h1v1h-1zM1228 186h1v1h-1zM1231 186h1v1h-1zM1234 186h1v1h-1zM1237 186h1v1h-1zM1240 186h1v1h-1zM1243 186h1v1h-1zM1246 186h1v1h-1zM1249 186h1v1h-1zM1252 186h1v1h-1zM1255 186h1v1h-1zM1258 186h1v1h-1zM1261 186h1v1h-1zM1264 186h1v1h-1zM1267 186h1v1h-1zM1270 186h1v1h-1zM1273 186h1v1h-1zM1276 186h1v1h-1zM1279 186h1v1h-1zM1282 186h1v1h-1zM1285 186h1v1h-1zM1288 186h1v1h-1zM1291 186h1v1h-1zM1294 186h1v1h-1zM1297 186h1v1h-1zM1300 186h1v1h-1zM1303 186h1v1h-1zM1306 186h1v1h-1zM1309 186h1v1h-1zM1312 186h1v1h-1zM1315 186h1v1h-1zM1318 186h1v1h-1zM1321 186h1v1h-1zM1324 186h1v1h-1zM1327 186h1v1h-1zM1330 186h1v1h-1zM1333 186h1v1h-1zM1336 186h1v1h-1zM1339 186h1v1h-1zM1342 186h1v1h-1zM1345 186h1v1h-1zM1348 186h1v1h-1zM1351 186h1v1h-1zM1354 186h1v1h-1zM1357 186h1v1h-1zM1360 186h1v1h-1zM1363 186h1v1h-1zM1366 186h1v1h-1zM1369 186h1v1h-1zM1372 186h1v1h-1zM1375 186h1v1h-1zM1378 186h1v1h-1zM1381 186h1v1h-1zM1384 186h1v1h-1zM1387 186h1v1h-1zM1390 186h1v1h-1zM1393 186h1v1h-1zM1396 186h1v1h-1zM1399 186h1v1h-1zM1402 186h1v1h-1zM1405 186h1v1h-1zM1408 186h1v1h-1zM1411 186h1v1h-1zM1414 186h1v1h-1zM1417 186h1v1h-1zM1420 186h1v1h-1zM1423 186h1v1h-1zM1426 186h1v1h-1zM1429 186h1v1h-1zM1432 186h1v1h-1zM1435 186h1v1h-1zM1438 186h1v1h-1zM1441 186h1v1h-1zM1444 186h1v1h-1zM1447 186h1v1h-1zM1450 186h1v1h-1zM1453 186h1v1h-1zM1456 186h1v1h-1zM1459 186h1v1h-1zM1462 186h1v1h-1zM1465 186h1v1h-1zM1468 186h1v1h-1zM1471 186h1v1h-1zM1474 186h1v1h-1zM1477 186h1v1h-1zM1480 186h1v1h-1zM1483 186h1v1h-1zM1486 186h1v1h-1zM1489 186h1v1h-1zM1492 186h1v1h-1zM1495 186h1v1h-1zM1498 186h1v1h-1zM1501 186h1v1h-1zM1504 186h1v1h-1zM1507 186h1v1h-1zM1510 186h1v1h-1zM1513 186h1v1h-1zM1516 186h1v1h-1zM1519 186h1v1h-1zM1522 186h1v1h-1zM1525 186h1v1h-1zM1528 186h1v1h-1zM1531 186h1v1h-1zM1534 186h1v1h-1zM1537 186h1v1h-1zM1540 186h1v1h-1zM1543 186h1v1h-1zM1546 186h1v1h-1zM1549 186h1v1h-1zM1552 186h1v1h-1zM1555 186h1v1h-1zM1558 186h1v1h-1zM1561 186h1v1h-1zM1564 186h1v1h-1zM1567 186h1v1h-1zM1570 186h1v1h-1zM1573 186h1v1h-1zM1576 186h1v1h-1zM1579 186h1v1h-1zM1582 186h1v1h-1zM1585 186h1v1h-1zM1588 186h1v1h-1zM1591 186h1v1h-1zM1594 186h1v1h-1zM1597 186h1v1h-1zM1600 186h1v1h-1zM1603 186h1v1h-1zM1606 186h1v1h-1zM1609 186h1v1h-1zM1612 186h1v1h-1zM1615 186h1v1h-1zM1618 186h1v1h-1zM1621 186h1v1h-1zM1624 186h1v1h-1zM1627 186h1v1h-1zM1630 186h1v1h-1zM1633 186h1v1h-1zM1636 186h1v1h-1zM1639 186h1v1h-1zM1642 186h1v1h-1zM1645 186h1v1h-1zM1648 186h1v1h-1zM1651 186h1v1h-1zM1654 186h1v1h-1zM1657 186h1v1h-1zM1660 186h1v1h-1zM1663 186h1v1h-1zM1666 186h1v1h-1zM1669 186h1v1h-1zM1672 186h1v1h-1zM1675 186h1v1h-1zM1678 186h1v1h-1zM1681 186h1v1h-1zM1684 186h1v1h-1zM1687 186h1v1h-1zM1690 186h1v1h-1zM1693 186h1v1h-1zM1696 186h1v1h-1zM1699 186h1v1h-1zM1702 186h1v1h-1zM1705 186h1v1h-1zM1708 186h1v1h-1zM1711 186h1v1h-1zM1714 186h1v1h-1zM1717 186h1v1h-1zM1720 186h1v1h-1zM1723 186h1v1h-1zM1726 186h1v1h-1zM1729 186h1v1h-1zM1732 186h1v1h-1zM1735 186h1v1h-1zM1738 186h1v1h-1zM1741 186h1v1h-1zM1744 186h1v1h-1zM1747 186h1v1h-1zM1750 186h1v1h-1zM1753 186h1v1h-1zM1756 186h1v1h-1zM1759 186h1v1h-1zM1762 186h1v1h-1zM1765 186h1v1h-1zM1768 186h1v1h-1zM1771 186h1v1h-1zM1774 186h1v1h-1zM1777 186h1v1h-1zM1780 186h1v1h-1zM1783 186h1v1h-1zM1786 186h1v1h-1zM1789 186h1v1h-1zM1792 186h1v1h-1zM1795 186h1v1h-1zM1798 186h1v1h-1zM1801 186h1v1h-1zM1804 186h1v1h-1zM1807 186h1v1h-1zM1810 186h1v1h-1zM1813 186h1v1h-1zM1816 186h1v1h-1zM1819 186h1v1h-1zM1822 186h1v1h-1zM1825 186h1v1h-1zM1828 186h1v1h-1zM1831 186h1v1h-1zM1834 186h1v1h-1zM1837 186h1v1h-1zM1840 186h1v1h-1zM1843 186h1v1h-1zM1846 186h1v1h-1zM1849 186h1v1h-1zM1852 186h1v1h-1zM1855 186h1v1h-1zM1858 186h1v1h-1zM1861 186h1v1h-1zM1864 186h1v1h-1zM1867 186h1v1h-1zM1870 186h1v1h-1zM1873 186h1v1h-1zM1876 186h1v1h-1zM1879 186h1v1h-1zM1882 186h1v1h-1zM1885 186h1v1h-1zM1888 186h1v1h-1zM1891 186h1v1h-1zM1894 186h1v1h-1zM1897 186h1v1h-1zM1900 186h1v1h-1zM1903 186h1v1h-1zM1906 186h1v1h-1zM1909 186h1v1h-1zM1912 186h1v1h-1zM1915 186h1v1h-1zM1918 186h1v1h-1zM1921 186h1v1h-1zM1924 186h1v1h-1zM1927 186h1v1h-1zM1930 186h1v1h-1zM1933 186h1v1h-1zM1936 186h1v1h-1zM1939 186h1v1h-1zM1942 186h1v1h-1zM1945 186h1v1h-1zM1948 186h1v1h-1zM1951 186h1v1h-1zM1954 186h1v1h-1zM1957 186h1v1h-1zM1960 186h1v1h-1zM1963 186h1v1h-1zM1966 186h1v1h-1zM1969 186h1v1h-1zM1972 186h1v1h-1zM1975 186h1v1h-1zM1978 186h1v1h-1zM1981 186h1v1h-1zM1984 186h1v1h-1zM1987 186h1v1h-1zM1990 186h1v1h-1zM1993 186h1v1h-1zM1996 186h1v1h-1zM1999 186h1v1h-1zM2002 186h1v1h-1zM2005 186h1v1h-1zM2008 186h1v1h-1zM2011 186h1v1h-1zM2014 186h1v1h-1zM2017 186h1v1h-1zM2020 186h1v1h-1zM2023 186h1v1h-1zM2026 186h1v1h-1zM2029 186h1v1h-1zM2032 186h1v1h-1zM2035 186h1v1h-1zM2038 186h1v1h-1zM2041 186h1v1h-1zM2044 186h1v1h-1zM2047 186h1v1h-1zM2050 186h1v1h-1zM2053 186h1v1h-1zM2056 186h1v1h-1zM2059 186h1v1h-1zM2062 186h1v1h-1zM2065 186h1v1h-1zM2068 186h1v1h-1zM2071 186h1v1h-1zM2074 186h1v1h-1zM2077 186h1v1h-1zM2080 186h1v1h-1zM2083 186h1v1h-1zM2086 186h1v1h-1zM2089 186h1v1h-1zM2092 186h1v1h-1zM2095 186h1v1h-1zM2098 186h1v1h-1zM2101 186h1v1h-1zM2104 186h1v1h-1zM2107 186h1v1h-1zM2110 186h1v1h-1zM2113 186h1v1h-1zM2116 186h1v1h-1zM2119 186h1v1h-1zM2122 186h1v1h-1zM2125 186h1v1h-1zM2128 186h1v1h-1zM2131 186h1v1h-1zM2134 186h1v1h-1zM2137 186h1v1h-1zM2140 186h1v1h-1zM2143 186h1v1h-1zM2146 186h1v1h-1zM2149 186h1v1h-1zM2152 186h1v1h-1zM2155 186h1v1h-1zM2158 186h1v1h-1zM2161 186h1v1h-1zM2164 186h1v1h-1zM2167 186h1v1h-1zM2170 186h1v1h-1zM2173 186h1v1h-1zM2176 186h1v1h-1zM2179 186h1v1h-1zM2182 186h1v1h-1zM2185 186h1v1h-1zM2188 186h1v1h-1zM2191 186h1v1h-1zM2194 186h1v1h-1zM2197 186h1v1h-1zM2200 186h1v1h-1zM2203 186h1v1h-1zM2206 186h1v1h-1zM2209 186h1v1h-1zM2212 186h1v1h-1zM2215 186h1v1h-1zM2218 186h1v1h-1zM2221 186h1v1h-1zM2224 186h1v1h-1zM2227 186h1v1h-1zM2230 186h1v1h-1zM2233 186h1v1h-1zM2236 186h1v1h-1zM2239 186h1v1h-1zM2242 186h1v1h-1zM2245 186h1v1h-1zM2248 186h1v1h-1zM2251 186h1v1h-1zM2254 186h1v1h-1zM2257 186h1v1h-1zM2260 186h1v1h-1zM2263 186h1v1h-1zM2266 186h1v1h-1zM2269 186h1v1h-1zM2272 186h1v1h-1zM2275 186h1v1h-1zM2278 186h1v1h-1zM2281 186h1v1h-1zM2284 186h1v1h-1zM2287 186h1v1h-1zM2290 186h1v1h-1zM2293 186h1v1h-1zM2296 186h1v1h-1zM2299 186h1v1h-1zM2302 186h1v1h-1zM2305 186h1v1h-1zM2308 186h1v1h-1zM2311 186h1v1h-1zM2314 186h1v1h-1zM2317 186h1v1h-1zM2320 186h1v1h-1zM2323 186h1v1h-1zM2326 186h1v1h-1zM2329 186h1v1h-1zM2332 186h1v1h-1zM2335 186h1v1h-1zM2338 186h1v1h-1zM2341 186h1v1h-1zM2344 186h1v1h-1zM2347 186h1v1h-1zM2350 186h1v1h-1zM2353 186h1v1h-1zM2356 186h1v1h-1zM2359 186h1v1h-1zM2362 186h1v1h-1zM2365 186h1v1h-1zM2368 186h1v1h-1zM2371 186h1v1h-1zM2374 186h1v1h-1zM2377 186h1v1h-1zM2380 186h1v1h-1zM2383 186h1v1h-1zM2386 186h1v1h-1zM2389 186h1v1h-1zM2392 186h1v1h-1zM2395 186h1v1h-1zM2398 186h1v1h-1zM2401 186h1v1h-1zM2404 186h1v1h-1zM2407 186h1v1h-1zM2410 186h1v1h-1zM2413 186h1v1h-1zM2416 186h1v1h-1zM2419 186h1v1h-1zM2422 186h1v1h-1zM2425 186h1v1h-1zM2428 186h1v1h-1zM2431 186h1v1h-1zM2434 186h1v1h-1zM2437 186h1v1h-1zM2440 186h1v1h-1zM2443 186h1v1h-1zM2446 186h1v1h-1zM2449 186h1v1h-1zM2452 186h1v1h-1zM2455 186h1v1h-1zM2458 186h1v1h-1zM2461 186h1v1h-1zM2464 186h1v1h-1zM2467 186h1v1h-1zM2470 186h1v1h-1zM2473 186h1v1h-1zM2476 186h1v1h-1zM2479 186h1v1h-1zM2482 186h1v1h-1zM2485 186h1v1h-1z" fill="#000"/>
<path d="M16 754h1v1h-1zM19 754h1v1h-1zM22 754h1v1h-1zM25 754h1v1h-1zM28 754h1v1h-1zM31 754h1v1h-1zM34 754h1v1h-1zM37 754h1v1h-1zM40 754h1v1h-1zM43 754h1v1h-1zM46 754h1v1h-1zM49 754h1v1h-1zM52 754h1v1h-1zM55 754h1v1h-1zM58 754h1v1h-1zM61 754h1v1h-1zM64 754h1v1h-1zM67 754h1v1h-1zM70 754h1v1h-1zM73 754h1v1h-1zM76 754h1v1h-1zM79 754h1v1h-1zM82 754h1v1h-1zM85 754h1v1h-1zM88 754h1v1h-1zM91 754h1v1h-1zM94 754h1v1h-1zM97 754h1v1h-1zM100 754h1v1h-1zM103 754h1v1h-1zM106 754h1v1h-1zM109 754h1v1h-1zM112 754h1v1h-1zM115 754h1v1h-1zM118 754h1v1h-1zM121 754h1v1h-1zM124 754h1v1h-1zM127 754h1v1h-1zM130 754h1v1h-1zM133 754h1v1h-1zM136 754h1v1h-1zM139 754h1v1h-1zM142 754h1v1h-1zM145 754h1v1h-1zM148 754h1v1h-1zM151 754h1v1h-1zM154 754h1v1h-1zM157 754h1v1h-1zM160 754h1v1h-1zM163 754h1v1h-1zM166 754h1v1h-1zM169 754h1v1h-1zM172 754h1v1h-1zM175 754h1v1h-1zM178 754h1v1h-1zM181 754h1v1h-1zM184 754h1v1h-1zM187 754h1v1h-1zM190 754h1v1h-1zM193 754h1v1h-1zM196 754h1v1h-1zM199 754h1v1h-1zM202 754h1v1h-1zM205 754h1v1h-1zM208 754h1v1h-1zM211 754h1v1h-1zM214 754h1v1h-1zM217 754h1v1h-1zM220 754h1v1h-1zM223 754h1v1h-1zM226 754h1v1h-1zM229 754h1v1h-1zM232 754h1v1h-1zM235 754h1v1h-1zM238 754h1v1h-1zM241 754h1v1h-1zM244 754h1v1h-1zM247 754h1v1h-1zM250 754h1v1h-1zM253 754h1v1h-1zM256 754h1v1h-1zM259 754h1v1h-1zM262 754h1v1h-1zM265 754h1v1h-1zM268 754h1v1h-1zM271 754h1v1h-1zM274 754h1v1h-1zM277 754h1v1h-1zM280 754h1v1h-1zM283 754h1v1h-1zM286 754h1v1h-1zM289 754h1v1h-1zM292 754h1v1h-1zM295 754h1v1h-1zM298 754h1v1h-1zM301 754h1v1h-1zM304 754h1v1h-1zM307 754h1v1h-1zM310 754h1v1h-1zM313 754h1v1h-1zM316 754h1v1h-1zM319 754h1v1h-1zM322 754h1v1h-1zM325 754h1v1h-1zM328 754h1v1h-1zM331 754h1v1h-1zM334 754h1v1h-1zM337 754h1v1h-1zM340 754h1v1h-1zM343 754h1v1h-1zM346 754h1v1h-1zM349 754h1v1h-1zM352 754h1v1h-1zM355 754h1v1h-1zM358 754h1v1h-1zM361 754h1v1h-1zM364 754h1v1h-1zM367 754h1v1h-1zM370 754h1v1h-1zM373 754h1v1h-1zM376 754h1v1h-1zM379 754h1v1h-1zM382 754h1v1h-1zM385 754h1v1h-1zM388 754h1v1h-1zM391 754h1v1h-1zM394 754h1v1h-1zM397 754h1v1h-1zM400 754h1v1h-1zM403 754h1v1h-1zM406 754h1v1h-1zM409 754h1v1h-1zM412 754h1v1h-1zM415 754h1v1h-1zM418 754h1v1h-1zM421 754h1v1h-1zM424 754h1v1h-1zM427 754h1v1h-1zM430 754h1v1h-1zM433 754h1v1h-1zM436 754h1v1h-1zM439 754h1v1h-1zM442 754h1v1h-1zM445 754h1v1h-1zM448 754h1v1h-1zM451 754h1v1h-1zM454 754h1v1h-1zM457 754h1v1h-1zM460 754h1v1h-1zM463 754h1v1h-1zM466 754h1v1h-1zM469 754h1v1h-1zM472 754h1v1h-1zM475 754h1v1h-1zM478 754h1v1h-1zM481 754h1v1h-1zM484 754h1v1h-1zM487 754h1v1h-1zM490 754h1v1h-1zM493 754h1v1h-1zM496 754h1v1h-1zM499 754h1v1h-1zM502 754h1v1h-1zM505 754h1v1h-1zM508 754h1v1h-1zM511 754h1v1h-1zM514 754h1v1h-1zM517 754h1v1h-1zM520 754h1v1h-1zM523 754h1v1h-1zM526 754h1v1h-1zM529 754h1v1h-1zM532 754h1v1h-1zM535 754h1v1h-1zM538 754h1v1h-1zM541 754h1v1h-1zM544 754h1v1h-1zM547 754h1v1h-1zM550 754h1v1h-1zM553 754h1v1h-1zM556 754h1v1h-1zM559 754h1v1h-1zM562 754h1v1h-1zM565 754h1v1h-1zM568 754h1v1h-1zM571 754h1v1h-1zM574 754h1v1h-1zM577 754h1v1h-1zM580 754h1v1h-1zM583 754h1v1h-1zM586 754h1v1h-1zM589 754h1v1h-1zM592 754h1v1h-1zM595 754h1v1h-1zM598 754h1v1h-1zM601 754h1v1h-1zM604 754h1v1h-1zM607 754h1v1h-1zM610 754h1v1h-1zM613 754h1v1h-1zM616 754h1v1h-1zM619 754h1v1h-1zM622 754h1v1h-1zM625 754h1v1h-1zM628 754h1v1h-1zM631 754h1v1h-1zM634 754h1v1h-1zM637 754h1v1h-1zM640 754h1v1h-1zM643 754h1v1h-1zM646 754h1v1h-1zM649 754h1v1h-1zM652 754h1v1h-1zM655 754h1v1h-1zM658 754h1v1h-1zM661 754h1v1h-1zM664 754h1v1h-1zM667 754h1v1h-1zM670 754h1v1h-1zM673 754h1v1h-1zM676 754h1v1h-1zM679 754h1v1h-1zM682 754h1v1h-1zM685 754h1v1h-1zM688 754h1v1h-1zM691 754h1v1h-1zM694 754h1v1h-1zM697 754h1v1h-1zM700 754h1v1h-1zM703 754h1v1h-1zM706 754h1v1h-1zM709 754h1v1h-1zM712 754h1v1h-1zM715 754h1v1h-1zM718 754h1v1h-1zM721 754h1v1h-1zM724 754h1v1h-1zM727 754h1v1h-1zM730 754h1v1h-1zM733 754h1v1h-1zM736 754h1v1h-1zM739 754h1v1h-1zM742 754h1v1h-1zM745 754h1v1h-1zM748 754h1v1h-1zM751 754h1v1h-1zM754 754h1v1h-1zM757 754h1v1h-1zM760 754h1v1h-1zM763 754h1v1h-1zM766 754h1v1h-1zM769 754h1v1h-1zM772 754h1v1h-1zM775 754h1v1h-1zM778 754h1v1h-1zM781 754h1v1h-1zM784 754h1v1h-1zM787 754h1v1h-1zM790 754h1v1h-1zM793 754h1v1h-1zM796 754h1v1h-1zM799 754h1v1h-1zM802 754h1v1h-1zM805 754h1v1h-1zM808 754h1v1h-1zM811 754h1v1h-1zM814 754h1v1h-1zM817 754h1v1h-1zM820 754h1v1h-1zM823 754h1v1h-1zM826 754h1v1h-1zM829 754h1v1h-1zM832 754h1v1h-1zM835 754h1v1h-1zM838 754h1v1h-1zM841 754h1v1h-1zM844 754h1v1h-1zM847 754h1v1h-1zM850 754h1v1h-1zM853 754h1v1h-1zM856 754h1v1h-1zM859 754h1v1h-1zM862 754h1v1h-1zM865 754h1v1h-1zM868 754h1v1h-1zM871 754h1v1h-1zM874 754h1v1h-1zM877 754h1v1h-1zM880 754h1v1h-1zM883 754h1v1h-1zM886 754h1v1h-1zM889 754h1v1h-1zM892 754h1v1h-1zM895 754h1v1h-1zM898 754h1v1h-1zM901 754h1v1h-1zM904 754h1v1h-1zM907 754h1v1h-1zM910 754h1v1h-1zM913 754h1v1h-1zM916 754h1v1h-1zM919 754h1v1h-1zM922 754h1v1h-1zM925 754h1v1h-1zM928 754h1v1h-1zM931 754h1v1h-1zM934 754h1v1h-1zM937 754h1v1h-1zM940 754h1v1h-1zM943 754h1v1h-1zM946 754h1v1h-1zM949 754h1v1h-1zM952 754h1v1h-1zM955 754h1v1h-1zM958 754h1v1h-1zM961 754h1v1h-1zM964 754h1v1h-1zM967 754h1v1h-1zM970 754h1v1h-1zM973 754h1v1h-1zM976 754h1v1h-1zM979 754h1v1h-1zM982 754h1v1h-1zM985 754h1v1h-1zM988 754h1v1h-1zM991 754h1v1h-1zM994 754h1v1h-1zM997 754h1v1h-1zM1000 754h1v1h-1zM1003 754h1v1h-1zM1006 754h1v1h-1zM1009 754h1v1h-1zM1012 754h1v1h-1zM1015 754h1v1h-1zM1018 754h1v1h-1zM1021 754h1v1h-1zM1024 754h1v1h-1zM1027 754h1v1h-1zM1030 754h1v1h-1zM1033 754h1v1h-1zM1036 754h1v1h-1zM1039 754h1v1h-1zM1042 754h1v1h-1zM1045 754h1v1h-1zM1048 754h1v1h-1zM1051 754h1v1h-1zM1054 754h1v1h-1zM1057 754h1v1h-1zM1060 754h1v1h-1zM1063 754h1v1h-1zM1066 754h1v1h-1zM1069 754h1v1h-1zM1072 754h1v1h-1zM1075 754h1v1h-1zM1078 754h1v1h-1zM1081 754h1v1h-1zM1084 754h1v1h-1zM1087 754h1v1h-1zM1090 754h1v1h-1zM1093 754h1v1h-1zM1096 754h1v1h-1zM1099 754h1v1h-1zM1102 754h1v1h-1zM1105 754h1v1h-1zM1108 754h1v1h-1zM1111 754h1v1h-1zM1114 754h1v1h-1zM1117 754h1v1h-1zM1120 754h1v1h-1zM1123 754h1v1h-1zM1126 754h1v1h-1zM1129 754h1v1h-1zM1132 754h1v1h-1zM1135 754h1v1h-1zM1138 754h1v1h-1zM1141 754h1v1h-1zM1144 754h1v1h-1zM1147 754h1v1h-1zM1150 754h1v1h-1zM1153 754h1v1h-1zM1156 754h1v1h-1zM1159 754h1v1h-1zM1162 754h1v1h-1zM1165 754h1v1h-1zM1168 754h1v1h-1zM1171 754h1v1h-1zM1174 754h1v1h-1zM1177 754h1v1h-1zM1180 754h1v1h-1zM1183 754h1v1h-1zM1186 754h1v1h-1zM1189 754h1v1h-1zM1192 754h1v1h-1zM1195 754h1v1h-1zM1198 754h1v1h-1zM1201 754h1v1h-1zM1204 754h1v1h-1zM1207 754h1v1h-1zM1210 754h1v1h-1zM1213 754h1v1h-1zM1216 754h1v1h-1zM1219 754h1v1h-1zM1222 754h1v1h-1zM1225 754h1v1h-1zM1228 754h1v1h-1zM1231 754h1v1h-1zM1234 754h1v1h-1zM1237 754h1v1h-1zM1240 754h1v1h-1zM1243 754h1v1h-1zM1246 754h1v1h-1zM1249 754h1v1h-1zM1252 754h1v1h-1zM1255 754h1v1h-1zM1258 754h1v1h-1zM1261 754h1v1h-1zM1264 754h1v1h-1zM1267 754h1v1h-1zM1270 754h1v1h-1zM1273 754h1v1h-1zM1276 754h1v1h-1zM1279 754h1v1h-1zM1282 754h1v1h-1zM1285 754h1v1h-1zM1288 754h1v1h-1zM1291 754h1v1h-1zM1294 754h1v1h-1zM1297 754h1v1h-1zM1300 754h1v1h-1zM1303 754h1v1h-1zM1306 754h1v1h-1zM1309 754h1v1h-1zM1312 754h1v1h-1zM1315 754h1v1h-1zM1318 754h1v1h-1zM1321 754h1v1h-1zM1324 754h1v1h-1zM1327 754h1v1h-1zM1330 754h1v1h-1zM1333 754h1v1h-1zM1336 754h1v1h-1zM1339 754h1v1h-1zM1342 754h1v1h-1zM1345 754h1v1h-1zM1348 754h1v1h-1zM1351 754h1v1h-1zM1354 754h1v1h-1zM1357 754h1v1h-1zM1360 754h1v1h-1zM1363 754h1v1h-1zM1366 754h1v1h-1zM1369 754h1v1h-1zM1372 754h1v1h-1zM1375 754h1v1h-1zM1378 754h1v1h-1zM1381 754h1v1h-1zM1384 754h1v1h-1zM1387 754h1v1h-1zM1390 754h1v1h-1zM1393 754h1v1h-1zM1396 754h1v1h-1zM1399 754h1v1h-1zM1402 754h1v1h-1zM1405 754h1v1h-1zM1408 754h1v1h-1zM1411 754h1v1h-1zM1414 754h1v1h-1zM1417 754h1v1h-1zM1420 754h1v1h-1zM1423 754h1v1h-1zM1426 754h1v1h-1zM1429 754h1v1h-1zM1432 754h1v1h-1zM1435 754h1v1h-1zM1438 754h1v1h-1zM1441 754h1v1h-1zM1444 754h1v1h-1zM1447 754h1v1h-1zM1450 754h1v1h-1zM1453 754h1v1h-1zM1456 754h1v1h-1zM1459 754h1v1h-1zM1462 754h1v1h-1zM1465 754h1v1h-1zM1468 754h1v1h-1zM1471 754h1v1h-1zM1474 754h1v1h-1zM1477 754h1v1h-1zM1480 754h1v1h-1zM1483 754h1v1h-1zM1486 754h1v1h-1zM1489 754h1v1h-1zM1492 754h1v1h-1zM1495 754h1v1h-1zM1498 754h1v1h-1zM1501 754h1v1h-1zM1504 754h1v1h-1zM1507 754h1v1h-1zM1510 754h1v1h-1zM1513 754h1v1h-1zM1516 754h1v1h-1zM1519 754h1v1h-1zM1522 754h1v1h-1zM1525 754h1v1h-1zM1528 754h1v1h-1zM1531 754h1v1h-1zM1534 754h1v1h-1zM1537 754h1v1h-1zM1540 754h1v1h-1zM1543 754h1v1h-1zM1546 754h1v1h-1zM1549 754h1v1h-1zM1552 754h1v1h-1zM1555 754h1v1h-1zM1558 754h1v1h-1zM1561 754h1v1h-1zM1564 754h1v1h-1zM1567 754h1v1h-1zM1570 754h1v1h-1zM1573 754h1v1h-1zM1576 754h1v1h-1zM1579 754h1v1h-1zM1582 754h1v1h-1zM1585 754h1v1h-1zM1588 754h1v1h-1zM1591 754h1v1h-1zM1594 754h1v1h-1zM1597 754h1v1h-1zM1600 754h1v1h-1zM1603 754h1v1h-1zM1606 754h1v1h-1zM1609 754h1v1h-1zM1612 754h1v1h-1zM1615 754h1v1h-1zM1618 754h1v1h-1zM1621 754h1v1h-1zM1624 754h1v1h-1zM1627 754h1v1h-1zM1630 754h1v1h-1zM1633 754h1v1h-1zM1636 754h1v1h-1zM1639 754h1v1h-1zM1642 754h1v1h-1zM1645 754h1v1h-1zM1648 754h1v1h-1zM1651 754h1v1h-1zM1654 754h1v1h-1zM1657 754h1v1h-1zM1660 754h1v1h-1zM1663 754h1v1h-1zM1666 754h1v1h-1zM1669 754h1v1h-1zM1672 754h1v1h-1zM1675 754h1v1h-1zM1678 754h1v1h-1zM1681 754h1v1h-1zM1684 754h1v1h-1zM1687 754h1v1h-1zM1690 754h1v1h-1zM1693 754h1v1h-1zM1696 754h1v1h-1zM1699 754h1v1h-1zM1702 754h1v1h-1zM1705 754h1v1h-1zM1708 754h1v1h-1zM1711 754h1v1h-1zM1714 754h1v1h-1zM1717 754h1v1h-1zM1720 754h1v1h-1zM1723 754h1v1h-1zM1726 754h1v1h-1zM1729 754h1v1h-1zM1732 754h1v1h-1zM1735 754h1v1h-1zM1738 754h1v1h-1zM1741 754h1v1h-1zM1744 754h1v1h-1zM1747 754h1v1h-1zM1750 754h1v1h-1zM1753 754h1v1h-1zM1756 754h1v1h-1zM1759 754h1v1h-1zM1762 754h1v1h-1zM1765 754h1v1h-1zM1768 754h1v1h-1zM1771 754h1v1h-1zM1774 754h1v1h-1zM1777 754h1v1h-1zM1780 754h1v1h-1zM1783 754h1v1h-1zM1786 754h1v1h-1zM1789 754h1v1h-1zM1792 754h1v1h-1zM1795 754h1v1h-1zM1798 754h1v1h-1zM1801 754h1v1h-1zM1804 754h1v1h-1zM1807 754h1v1h-1zM1810 754h1v1h-1zM1813 754h1v1h-1zM1816 754h1v1h-1zM1819 754h1v1h-1zM1822 754h1v1h-1zM1825 754h1v1h-1zM1828 754h1v1h-1zM1831 754h1v1h-1zM1834 754h1v1h-1zM1837 754h1v1h-1zM1840 754h1v1h-1zM1843 754h1v1h-1zM1846 754h1v1h-1zM1849 754h1v1h-1zM1852 754h1v1h-1zM1855 754h1v1h-1zM1858 754h1v1h-1zM1861 754h1v1h-1zM1864 754h1v1h-1zM1867 754h1v1h-1zM1870 754h1v1h-1zM1873 754h1v1h-1zM1876 754h1v1h-1zM1879 754h1v1h-1zM1882 754h1v1h-1zM1885 754h1v1h-1zM1888 754h1v1h-1zM1891 754h1v1h-1zM1894 754h1v1h-1zM1897 754h1v1h-1zM1900 754h1v1h-1zM1903 754h1v1h-1zM1906 754h1v1h-1zM1909 754h1v1h-1zM1912 754h1v1h-1zM1915 754h1v1h-1zM1918 754h1v1h-1zM1921 754h1v1h-1zM1924 754h1v1h-1zM1927 754h1v1h-1zM1930 754h1v1h-1zM1933 754h1v1h-1zM1936 754h1v1h-1zM1939 754h1v1h-1zM1942 754h1v1h-1zM1945 754h1v1h-1zM1948 754h1v1h-1zM1951 754h1v1h-1zM1954 754h1v1h-1zM1957 754h1v1h-1zM1960 754h1v1h-1zM1963 754h1v1h-1zM1966 754h1v1h-1zM1969 754h1v1h-1zM1972 754h1v1h-1zM1975 754h1v1h-1zM1978 754h1v1h-1zM1981 754h1v1h-1zM1984 754h1v1h-1zM1987 754h1v1h-1zM1990 754h1v1h-1zM1993 754h1v1h-1zM1996 754h1v1h-1zM1999 754h1v1h-1zM2002 754h1v1h-1zM2005 754h1v1h-1zM2008 754h1v1h-1zM2011 754h1v1h-1zM2014 754h1v1h-1zM2017 754h1v1h-1zM2020 754h1v1h-1zM2023 754h1v1h-1zM2026 754h1v1h-1zM2029 754h1v1h-1zM2032 754h1v1h-1zM2035 754h1v1h-1zM2038 754h1v1h-1zM2041 754h1v1h-1zM2044 754h1v1h-1zM2047 754h1v1h-1zM2050 754h1v1h-1zM2053 754h1v1h-1zM2056 754h1v1h-1zM2059 754h1v1h-1zM2062 754h1v1h-1zM2065 754h1v1h-1zM2068 754h1v1h-1zM2071 754h1v1h-1zM2074 754h1v1h-1zM2077 754h1v1h-1zM2080 754h1v1h-1zM2083 754h1v1h-1zM2086 754h1v1h-1zM2089 754h1v1h-1zM2092 754h1v1h-1zM2095 754h1v1h-1zM2098 754h1v1h-1zM2101 754h1v1h-1zM2104 754h1v1h-1zM2107 754h1v1h-1zM2110 754h1v1h-1zM2113 754h1v1h-1zM2116 754h1v1h-1zM2119 754h1v1h-1zM2122 754h1v1h-1zM2125 754h1v1h-1zM2128 754h1v1h-1zM2131 754h1v1h-1zM2134 754h1v1h-1zM2137 754h1v1h-1zM2140 754h1v1h-1zM2143 754h1v1h-1zM2146 754h1v1h-1zM2149 754h1v1h-1zM2152 754h1v1h-1zM2155 754h1v1h-1zM2158 754h1v1h-1zM2161 754h1v1h-1zM2164 754h1v1h-1zM2167 754h1v1h-1zM2170 754h1v1h-1zM2173 754h1v1h-1zM2176 754h1v1h-1zM2179 754h1v1h-1zM2182 754h1v1h-1zM2185 754h1v1h-1zM2188 754h1v1h-1zM2191 754h1v1h-1zM2194 754h1v1h-1zM2197 754h1v1h-1zM2200 754h1v1h-1zM2203 754h1v1h-1zM2206 754h1v1h-1zM2209 754h1v1h-1zM2212 754h1v1h-1zM2215 754h1v1h-1zM2218 754h1v1h-1zM2221 754h1v1h-1zM2224 754h1v1h-1zM2227 754h1v1h-1zM2230 754h1v1h-1zM2233 754h1v1h-1zM2236 754h1v1h-1zM2239 754h1v1h-1zM2242 754h1v1h-1zM2245 754h1v1h-1zM2248 754h1v1h-1zM2251 754h1v1h-1zM2254 754h1v1h-1zM2257 754h1v1h-1zM2260 754h1v1h-1zM2263 754h1v1h-1zM2266 754h1v1h-1zM2269 754h1v1h-1zM2272 754h1v1h-1zM2275 754h1v1h-1zM2278 754h1v1h-1zM2281 754h1v1h-1zM2284 754h1v1h-1zM2287 754h1v1h-1zM2290 754h1v1h-1zM2293 754h1v1h-1zM2296 754h1v1h-1zM2299 754h1v1h-1zM2302 754h1v1h-1zM2305 754h1v1h-1zM2308 754h1v1h-1zM2311 754h1v1h-1zM2314 754h1v1h-1zM2317 754h1v1h-1zM2320 754h1v1h-1zM2323 754h1v1h-1zM2326 754h1v1h-1zM2329 754h1v1h-1zM2332 754h1v1h-1zM2335 754h1v1h-1zM2338 754h1v1h-1zM2341 754h1v1h-1zM2344 754h1v1h-1zM2347 754h1v1h-1zM2350 754h1v1h-1zM2353 754h1v1h-1zM2356 754h1v1h-1zM2359 754h1v1h-1zM2362 754h1v1h-1zM2365 754h1v1h-1zM2368 754h1v1h-1zM2371 754h1v1h-1zM2374 754h1v1h-1zM2377 754h1v1h-1zM2380 754h1v1h-1zM2383 754h1v1h-1zM2386 754h1v1h-1zM2389 754h1v1h-1zM2392 754h1v1h-1zM2395 754h1v1h-1zM2398 754h1v1h-1zM2401 754h1v1h-1zM2404 754h1v1h-1zM2407 754h1v1h-1zM2410 754h1v1h-1zM2413 754h1v1h-1zM2416 754h1v1h-1zM2419 754h1v1h-1zM2422 754h1v1h-1zM2425 754h1v1h-1zM2428 754h1v1h-1zM2431 754h1v1h-1zM2434 754h1v1h-1zM2437 754h1v1h-1z" fill="#000"/>
</g>
<polyline points="-27.4,805.72 27.8,800.75 82.8,796.60 137.8,792.89 193.8,790.82 248.8,788.47 303.8,786.22 358.8,781.78 413.8,775.28 469.8,768.72 524.8,762.42 579.8,755.93 634.8,750.83 690.8,745.86 745.8,742.14 800.8,738.49 855.8,733.92 911.8,728.47 966.8,722.06 1021.8,716.84 1076.8,713.04 1132.8,709.75 1187.8,705.37 1242.8,702.76 1297.8,700.11 1353.8,696.93 1408.8,694.54 1463.8,690.67 1518.8,685.94 1574.8,680.02 1629.8,670.49 1684.8,658.47 1739.8,645.75 1794.8,629.01 1850.8,611.83 1905.8,595.14" fill="none" stroke="#000000" stroke-width="1.15" stroke-linejoin="round" stroke-linecap="butt" clip-path="url(#cpMain)"/>
<polyline points="-27.4,863.03 27.8,861.20 82.8,859.55 137.8,857.98 193.8,856.80 248.8,855.55 303.8,854.31 358.8,852.51 413.8,850.16 469.8,847.75 524.8,845.36 579.8,842.89 634.8,840.73 690.8,838.58 745.8,836.71 800.8,834.84 855.8,832.72 911.8,830.36 966.8,827.72 1021.8,825.34 1076.8,823.30 1132.8,821.37 1187.8,819.14 1242.8,817.35 1297.8,815.54 1353.8,813.58 1408.8,811.81 1463.8,809.67 1518.8,807.28 1574.8,804.57 1629.8,800.91 1684.8,796.57 1739.8,791.96 1794.8,786.26 1850.8,780.34 1905.8,774.43" fill="none" stroke="#000000" stroke-width="2.4" stroke-linejoin="round" stroke-linecap="butt" clip-path="url(#cpMain)"/>
<g shape-rendering="crispEdges" clip-path="url(#cpMain)">
<rect x="28" y="645" width="1" height="57" fill="#000"/>
<rect x="7" y="662" width="43" height="17" fill="#000"/>
<rect x="8" y="663" width="41" height="15" fill="#fff"/>
<rect x="83" y="671" width="1" height="32" fill="#000"/>
<rect x="62" y="684" width="43" height="11" fill="#000"/>
<rect x="63" y="685" width="41" height="9" fill="#fff"/>
<rect x="138" y="665" width="1" height="56" fill="#000"/>
<rect x="117" y="694" width="43" height="8" fill="#000"/>
<rect x="118" y="695" width="41" height="6" fill="#fff"/>
<rect x="194" y="699" width="1" height="46" fill="#000"/>
<rect x="173" y="702" width="43" height="38" fill="#000"/>
<rect x="174" y="703" width="41" height="36" fill="#fff"/>
<rect x="249" y="704" width="1" height="51" fill="#000"/>
<rect x="228" y="731" width="43" height="9" fill="#000"/>
<rect x="304" y="712" width="1" height="32" fill="#000"/>
<rect x="283" y="731" width="43" height="1" fill="#000"/>
<rect x="359" y="666" width="1" height="71" fill="#000"/>
<rect x="338" y="673" width="43" height="59" fill="#000"/>
<rect x="414" y="615" width="1" height="59" fill="#000"/>
<rect x="393" y="616" width="43" height="58" fill="#000"/>
<rect x="470" y="592" width="1" height="26" fill="#000"/>
<rect x="449" y="608" width="43" height="9" fill="#000"/>
<rect x="525" y="602" width="1" height="7" fill="#000"/>
<rect x="504" y="608" width="43" height="1" fill="#000"/>
<rect x="580" y="583" width="1" height="36" fill="#000"/>
<rect x="559" y="597" width="43" height="19" fill="#000"/>
<rect x="635" y="580" width="1" height="57" fill="#000"/>
<rect x="614" y="614" width="43" height="12" fill="#000"/>
<rect x="615" y="615" width="41" height="10" fill="#fff"/>
<rect x="691" y="592" width="1" height="39" fill="#000"/>
<rect x="670" y="624" width="43" height="3" fill="#000"/>
<rect x="746" y="613" width="1" height="54" fill="#000"/>
<rect x="725" y="624" width="43" height="27" fill="#000"/>
<rect x="726" y="625" width="41" height="25" fill="#fff"/>
<rect x="801" y="648" width="1" height="4" fill="#000"/>
<rect x="780" y="649" width="43" height="2" fill="#000"/>
<rect x="856" y="606" width="1" height="51" fill="#000"/>
<rect x="835" y="622" width="43" height="29" fill="#000"/>
<rect x="912" y="590" width="1" height="73" fill="#000"/>
<rect x="891" y="595" width="43" height="50" fill="#000"/>
<rect x="967" y="561" width="1" height="50" fill="#000"/>
<rect x="946" y="565" width="43" height="31" fill="#000"/>
<rect x="1022" y="529" width="1" height="64" fill="#000"/>
<rect x="1001" y="565" width="43" height="24" fill="#000"/>
<rect x="1002" y="566" width="41" height="22" fill="#fff"/>
<rect x="1077" y="582" width="1" height="57" fill="#000"/>
<rect x="1056" y="588" width="43" height="32" fill="#000"/>
<rect x="1057" y="589" width="41" height="30" fill="#fff"/>
<rect x="1133" y="609" width="1" height="53" fill="#000"/>
<rect x="1112" y="618" width="43" height="11" fill="#000"/>
<rect x="1113" y="619" width="41" height="9" fill="#fff"/>
<rect x="1188" y="586" width="1" height="57" fill="#000"/>
<rect x="1167" y="598" width="43" height="42" fill="#000"/>
<rect x="1243" y="580" width="1" height="70" fill="#000"/>
<rect x="1222" y="598" width="43" height="41" fill="#000"/>
<rect x="1223" y="599" width="41" height="39" fill="#fff"/>
<rect x="1298" y="612" width="1" height="38" fill="#000"/>
<rect x="1277" y="635" width="43" height="4" fill="#000"/>
<rect x="1354" y="602" width="1" height="55" fill="#000"/>
<rect x="1333" y="619" width="43" height="17" fill="#000"/>
<rect x="1409" y="603" width="1" height="49" fill="#000"/>
<rect x="1388" y="618" width="43" height="18" fill="#000"/>
<rect x="1389" y="619" width="41" height="16" fill="#fff"/>
<rect x="1464" y="593" width="1" height="63" fill="#000"/>
<rect x="1443" y="596" width="43" height="55" fill="#000"/>
<rect x="1519" y="554" width="1" height="52" fill="#000"/>
<rect x="1498" y="570" width="43" height="27" fill="#000"/>
<rect x="1575" y="514" width="1" height="65" fill="#000"/>
<rect x="1554" y="535" width="43" height="36" fill="#000"/>
<rect x="1630" y="428" width="1" height="118" fill="#000"/>
<rect x="1609" y="437" width="43" height="99" fill="#000"/>
<rect x="1685" y="363" width="1" height="79" fill="#000"/>
<rect x="1664" y="364" width="43" height="74" fill="#000"/>
<rect x="1740" y="304" width="1" height="45" fill="#000"/>
<rect x="1719" y="324" width="43" height="10" fill="#000"/>
<rect x="1720" y="325" width="41" height="8" fill="#fff"/>
<rect x="1795" y="206" width="1" height="149" fill="#000"/>
<rect x="1774" y="219" width="43" height="115" fill="#000"/>
<rect x="1851" y="186" width="1" height="71" fill="#000"/>
<rect x="1830" y="191" width="43" height="29" fill="#000"/>
<rect x="1906" y="105" width="1" height="162" fill="#000"/>
<rect x="1885" y="186" width="43" height="6" fill="#000"/>
</g>
<polyline points="-27.4,1025.10 27.8,1035.30 82.8,1045.30 137.8,1050.30 193.8,1072.90 248.8,1068.50 303.8,1068.90 358.8,1042.60 413.8,1022.70 469.8,1020.10 524.8,1020.30 579.8,1016.20 634.8,1037.70 690.8,1037.20 745.8,1056.40 800.8,1055.60 855.8,1043.00 911.8,1030.70 966.8,1018.50 1021.8,1036.70 1076.8,1058.40 1132.8,1065.20 1187.8,1050.10 1242.8,1076.00 1297.8,1074.30 1353.8,1065.40 1408.8,1076.30 1463.8,1055.60 1518.8,1043.00 1574.8,1029.50 1629.8,1000.10 1684.8,985.10 1739.8,980.00 1794.8,964.60 1850.8,961.70 1905.8,961.00" fill="none" stroke="#7e57c2" stroke-width="1.25" stroke-linejoin="round" stroke-linecap="butt" clip-path="url(#cpRsi)"/>
<polyline points="-27.4,1204.00 27.8,1208.70 82.8,1212.70 137.8,1222.30 193.8,1240.30 248.8,1256.00 303.8,1270.50 358.8,1271.30 413.8,1259.30 469.8,1243.70 524.8,1227.90 579.8,1211.70 634.8,1213.50 690.8,1224.60 745.8,1235.70 800.8,1246.80 855.8,1252.80 911.8,1246.00 966.8,1236.40 1021.8,1231.60 1076.8,1233.10 1132.8,1250.60 1187.8,1266.50 1242.8,1296.80 1297.8,1315.80 1353.8,1324.40 1408.8,1327.10 1463.8,1326.40 1518.8,1307.70 1574.8,1283.00 1629.8,1259.00 1684.8,1229.40 1739.8,1214.00 1794.8,1203.30 1850.8,1198.00 1905.8,1202.60" fill="none" stroke="#2196f3" stroke-width="1.25" stroke-linejoin="round" stroke-linecap="butt" clip-path="url(#cpSto)"/>
<polyline points="-27.4,1203.50 27.8,1204.90 82.8,1206.40 137.8,1210.20 193.8,1217.80 248.8,1227.90 303.8,1240.50 358.8,1252.00 413.8,1259.40 469.8,1260.20 524.8,1254.90 579.8,1243.50 634.8,1231.80 690.8,1224.10 745.8,1222.30 800.8,1226.10 855.8,1234.20 911.8,1240.70 966.8,1243.20 1021.8,1242.50 1076.8,1240.00 1132.8,1239.50 1187.8,1243.50 1242.8,1255.60 1297.8,1272.90 1353.8,1291.10 1408.8,1306.00 1463.8,1318.10 1518.8,1320.10 1574.8,1313.80 1629.8,1300.70 1684.8,1281.10 1739.8,1258.10 1794.8,1236.80 1850.8,1220.70 1905.8,1209.80" fill="none" stroke="#ff6d00" stroke-width="1.25" stroke-linejoin="round" stroke-linecap="butt" clip-path="url(#cpSto)"/>
<g shape-rendering="crispEdges">
<rect x="14" y="936" width="2558" height="1" fill="#e0e3eb"/>
<rect x="14" y="1179" width="2558" height="1" fill="#e0e3eb"/>
<rect x="2486" y="14" width="1" height="922" fill="#000"/>
<rect x="2486" y="937" width="1" height="242" fill="#000"/>
<rect x="2486" y="1180" width="1" height="223" fill="#000"/>
<rect x="14" y="1364" width="2558" height="1" fill="#000"/>
<rect x="12" y="12" width="2562" height="2" fill="#eeeff5"/>
<rect x="12" y="1403" width="2562" height="2" fill="#eeeff5"/>
<rect x="12" y="12" width="2" height="1393" fill="#eeeff5"/>
<rect x="2572" y="12" width="2" height="1393" fill="#eeeff5"/>
<rect x="13" y="105" width="1" height="1" fill="#8d8e92"/>
<rect x="13" y="186" width="1" height="1" fill="#8d8e92"/>
<rect x="13" y="754" width="1" height="1" fill="#8d8e92"/>
<rect x="13" y="1015" width="1" height="1" fill="#8d8e92"/>
<rect x="13" y="1158" width="1" height="1" fill="#8d8e92"/>
<rect x="13" y="1231" width="1" height="1" fill="#8d8e92"/>
<rect x="13" y="1348" width="1" height="1" fill="#8d8e92"/>
<rect x="13" y="1364" width="1" height="1" fill="#8d8e92"/>
<rect x="13" y="662" width="1" height="1" fill="#8d8e92"/>
<rect x="13" y="678" width="1" height="1" fill="#8d8e92"/>
<rect x="2486" y="13" width="1" height="1" fill="#8d8e92"/>
</g>
<text x="2498" y="38.9" font-size="17.8" fill="#131722" textLength="63" lengthAdjust="spacingAndGlyphs">0.71500</text>
<text x="2498" y="103.9" font-size="17.8" fill="#131722" textLength="63" lengthAdjust="spacingAndGlyphs">0.71000</text>
<text x="2498" y="168.9" font-size="17.8" fill="#131722" textLength="63" lengthAdjust="spacingAndGlyphs">0.70500</text>
<text x="2498" y="232.9" font-size="17.8" fill="#131722" textLength="63" lengthAdjust="spacingAndGlyphs">0.70000</text>
<text x="2498" y="297.9" font-size="17.8" fill="#131722" textLength="63" lengthAdjust="spacingAndGlyphs">0.69500</text>
<text x="2498" y="361.9" font-size="17.8" fill="#131722" textLength="63" lengthAdjust="spacingAndGlyphs">0.69000</text>
<text x="2498" y="426.9" font-size="17.8" fill="#131722" textLength="63" lengthAdjust="spacingAndGlyphs">0.68500</text>
<text x="2498" y="491.9" font-size="17.8" fill="#131722" textLength="63" lengthAdjust="spacingAndGlyphs">0.68000</text>
<text x="2498" y="555.9" font-size="17.8" fill="#131722" textLength="63" lengthAdjust="spacingAndGlyphs">0.67500</text>
<text x="2498" y="620.9" font-size="17.8" fill="#131722" textLength="63" lengthAdjust="spacingAndGlyphs">0.67000</text>
<text x="2498" y="685.9" font-size="17.8" fill="#131722" textLength="63" lengthAdjust="spacingAndGlyphs">0.66500</text>
<text x="2498" y="750.7" font-size="17.8" fill="#131722" textLength="63" lengthAdjust="spacingAndGlyphs">0.66000</text>
<text x="2498" y="814.9" font-size="17.8" fill="#131722" textLength="63" lengthAdjust="spacingAndGlyphs">0.65500</text>
<text x="2498" y="879.9" font-size="17.8" fill="#131722" textLength="63" lengthAdjust="spacingAndGlyphs">0.65000</text>
<text x="2498" y="985.4" font-size="17.8" fill="#131722" textLength="43.5" lengthAdjust="spacingAndGlyphs">80.00</text>
<text x="2498" y="1056.4" font-size="17.8" fill="#131722" textLength="43.5" lengthAdjust="spacingAndGlyphs">60.00</text>
<text x="2498" y="1128.4" font-size="17.8" fill="#131722" textLength="43.5" lengthAdjust="spacingAndGlyphs">40.00</text>
<text x="2498" y="1198.1" font-size="17.8" fill="#131722" textLength="52.6" lengthAdjust="spacingAndGlyphs">100.00</text>
<text x="2498" y="1247.1" font-size="17.8" fill="#131722" textLength="43.5" lengthAdjust="spacingAndGlyphs">75.00</text>
<text x="2498" y="1296.1" font-size="17.8" fill="#131722" textLength="43.5" lengthAdjust="spacingAndGlyphs">50.00</text>
<text x="2498" y="1345.2" font-size="17.8" fill="#131722" textLength="43.5" lengthAdjust="spacingAndGlyphs">25.00</text>
<path d="M2486 93h79.5a2.5 2.5 0 0 1 2.5 2.5v20a2.5 2.5 0 0 1 -2.5 2.5h-79.5z" fill="#000"/>
<text x="2498" y="111.7" font-size="17.8" fill="#fff" textLength="63" lengthAdjust="spacingAndGlyphs" stroke="#fff" stroke-width="0.6">0.70943</text>
<rect x="2485" y="93" width="1" height="25" fill="#fff"/>
<path d="M2485 93v25h-45.5a2.5 2.5 0 0 1 -2.5 -2.5v-20a2.5 2.5 0 0 1 2.5 -2.5z" fill="#000"/>
<text x="2444" y="109.8" font-size="17.8" fill="#fff" textLength="33.8" lengthAdjust="spacingAndGlyphs" stroke="#fff" stroke-width="0.6">High</text>
<path d="M2486 742h79.5a2.5 2.5 0 0 1 2.5 2.5v20a2.5 2.5 0 0 1 -2.5 2.5h-79.5z" fill="#000"/>
<text x="2498" y="760.7" font-size="17.8" fill="#fff" textLength="63" lengthAdjust="spacingAndGlyphs" stroke="#fff" stroke-width="0.6">0.65927</text>
<rect x="2485" y="742" width="1" height="25" fill="#fff"/>
<path d="M2485 742v25h-42.5a2.5 2.5 0 0 1 -2.5 -2.5v-20a2.5 2.5 0 0 1 2.5 -2.5z" fill="#000"/>
<text x="2447.6" y="760.6" font-size="17.8" fill="#fff" textLength="30.5" lengthAdjust="spacingAndGlyphs" stroke="#fff" stroke-width="0.6">Low</text>
<path d="M2486 174h79.5a2.5 2.5 0 0 1 2.5 2.5v20a2.5 2.5 0 0 1 -2.5 2.5h-79.5z" fill="#000"/>
<text x="2498" y="192.7" font-size="17.8" fill="#fff" textLength="63" lengthAdjust="spacingAndGlyphs" stroke="#fff" stroke-width="0.6">0.70316</text>
<text x="28.3" y="1390.3" font-size="17.8" fill="#131722" text-anchor="middle" textLength="18.3" lengthAdjust="spacingAndGlyphs">12</text>
<text x="194.3" y="1390.3" font-size="17.8" fill="#131722" text-anchor="middle" textLength="18.3" lengthAdjust="spacingAndGlyphs">17</text>
<text x="359.3" y="1390.3" font-size="17.8" fill="#131722" text-anchor="middle" textLength="18.3" lengthAdjust="spacingAndGlyphs">22</text>
<text x="525.3" y="1390.3" font-size="17.8" fill="#131722" text-anchor="middle" textLength="18.3" lengthAdjust="spacingAndGlyphs">25</text>
<text x="801.5" y="1390.3" font-size="17.8" fill="#131722" text-anchor="middle" textLength="40.4" lengthAdjust="spacingAndGlyphs" stroke="#131722" stroke-width="0.75">2026</text>
<text x="966.9" y="1390.3" font-size="17.8" fill="#131722" text-anchor="middle" textLength="9.2" lengthAdjust="spacingAndGlyphs">6</text>
<text x="1132.9" y="1390.3" font-size="17.8" fill="#131722" text-anchor="middle" textLength="9.2" lengthAdjust="spacingAndGlyphs">9</text>
<text x="1298.3" y="1390.3" font-size="17.8" fill="#131722" text-anchor="middle" textLength="18.3" lengthAdjust="spacingAndGlyphs">14</text>
<text x="1464.3" y="1390.3" font-size="17.8" fill="#131722" text-anchor="middle" textLength="18.3" lengthAdjust="spacingAndGlyphs">19</text>
<text x="1630.3" y="1390.3" font-size="17.8" fill="#131722" text-anchor="middle" textLength="18.3" lengthAdjust="spacingAndGlyphs">22</text>
<text x="1795.3" y="1390.3" font-size="17.8" fill="#131722" text-anchor="middle" textLength="18.3" lengthAdjust="spacingAndGlyphs">27</text>
<text x="2016.77" y="1390.3" font-size="17.8" fill="#131722" text-anchor="middle" textLength="28.5" lengthAdjust="spacingAndGlyphs">Feb</text>
<text x="2182.0750000000003" y="1390.3" font-size="17.8" fill="#131722" text-anchor="middle" textLength="9.2" lengthAdjust="spacingAndGlyphs">5</text>
<text x="2348.1800000000003" y="1390.3" font-size="17.8" fill="#131722" text-anchor="middle" textLength="18.3" lengthAdjust="spacingAndGlyphs">10</text>
<text x="23.4" y="37.7" font-size="15.6" fill="#262a35" textLength="87.6" lengthAdjust="spacingAndGlyphs">AUD/USD, 1D</text>
<text x="121.3" y="37.7" font-size="15.6" fill="#262a35" textLength="61.7" lengthAdjust="spacingAndGlyphs">O0.70278</text>
<text x="193.2" y="37.7" font-size="15.6" fill="#262a35" textLength="61.2" lengthAdjust="spacingAndGlyphs">H0.70943</text>
<text x="264.6" y="37.7" font-size="15.6" fill="#262a35" textLength="59.4" lengthAdjust="spacingAndGlyphs">L0.69689</text>
<text x="334" y="37.7" font-size="15.6" fill="#262a35" textLength="60.4" lengthAdjust="spacingAndGlyphs">C0.70316</text>
<text x="404.6" y="37.7" font-size="15.6" fill="#262a35" textLength="121.0" lengthAdjust="spacingAndGlyphs">+0.00038 (+0.05%)</text>
<text x="23.4" y="59.0" font-size="15.6" fill="#262a35" textLength="120.3" lengthAdjust="spacingAndGlyphs">EMA (50, close, 0)</text>
<text x="153.3" y="59.0" font-size="15.6" fill="#262a35" textLength="52.0" lengthAdjust="spacingAndGlyphs">0.67156</text>
<text x="23.4" y="80.3" font-size="15.6" fill="#262a35" textLength="128.1" lengthAdjust="spacingAndGlyphs">EMA (200, close, 0)</text>
<text x="161" y="80.3" font-size="15.6" fill="#262a35" textLength="52" lengthAdjust="spacingAndGlyphs">0.65770</text>
<text x="23.2" y="961.9" font-size="15.6" fill="#262a35" textLength="113.1" lengthAdjust="spacingAndGlyphs">RSI (14, SMA, 14)</text>
<text x="146.2" y="961.9" font-size="15.6" fill="#7e57c2" textLength="36.2" lengthAdjust="spacingAndGlyphs">85.19</text>
<text x="192.1" y="961.9" font-size="15.6" fill="#2196f3" textLength="36.1" lengthAdjust="spacingAndGlyphs">67.83</text>
<text x="23.2" y="1204.9" font-size="15.6" fill="#262a35" textLength="103.0" lengthAdjust="spacingAndGlyphs">Stoch (14, 5, 5)</text>
<text x="136.6" y="1204.9" font-size="15.6" fill="#2196f3" textLength="35.7" lengthAdjust="spacingAndGlyphs">94.56</text>
<text x="182.2" y="1204.9" font-size="15.6" fill="#ff6d00" textLength="36.3" lengthAdjust="spacingAndGlyphs">90.97</text>
<g transform="translate(13,1417) scale(0.684)" fill="#131722">
<path d="M14 22H7V11H0V4h14v18zM28 22h-8l7.5-18h8L28 22z"/><circle cx="20" cy="8" r="4"/>
</g>
<text x="41.7" y="1431.8" font-size="15.6" fill="#262a35" textLength="87.8" lengthAdjust="spacingAndGlyphs">TradingView</text>
</svg></body></html>
